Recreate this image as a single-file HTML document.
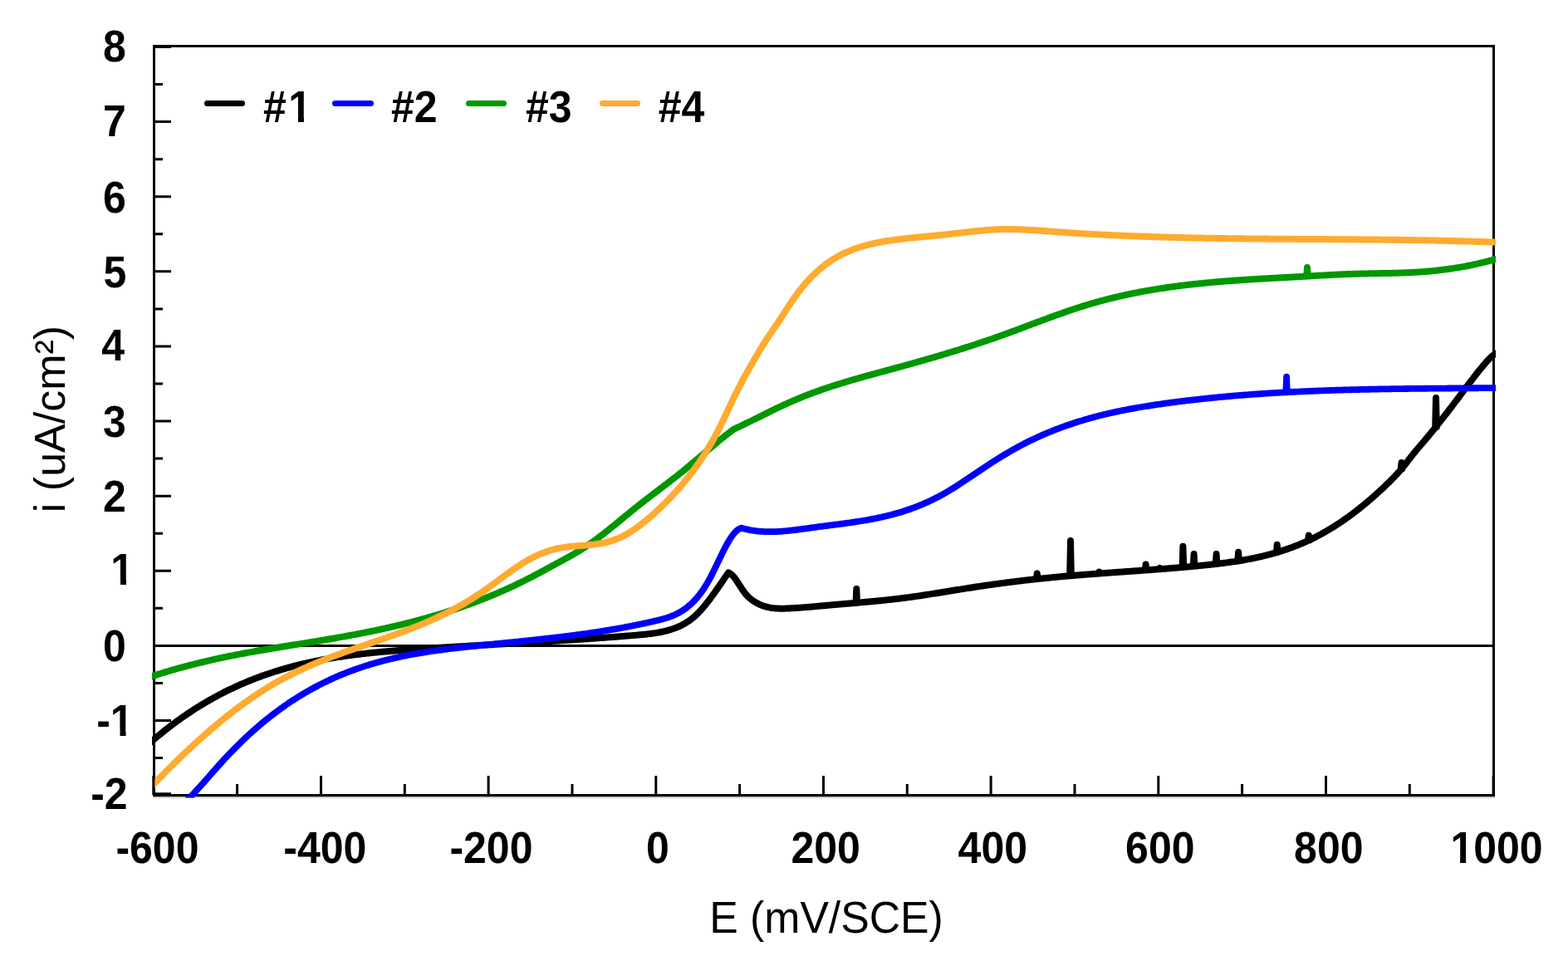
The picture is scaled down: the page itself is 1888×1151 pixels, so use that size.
<!DOCTYPE html><html><head><meta charset="utf-8"><title>Polarization curves</title><style>html,body{margin:0;padding:0;background:#fff;}svg{display:block}</style></head><body>
<svg xmlns="http://www.w3.org/2000/svg" width="1888" height="1151" viewBox="0 0 1888 1151">
<rect width="1888" height="1151" fill="#fff"/>
<defs><clipPath id="c"><rect x="183" y="54" width="1618" height="906.6"/></clipPath><clipPath id="c2"><rect x="186.3" y="54" width="1615" height="906.6"/></clipPath></defs>
<path d="M186,955.8H206 M186,867.5H206 M186,777.4H206 M186,687.3H206 M186,597.2H206 M186,507.1H206 M186,417.0H206 M186,326.8H206 M186,236.7H206 M186,146.6H206 M186,56.5H206 M186,912.6H196 M186,822.5H196 M186,732.3H196 M186,642.2H196 M186,552.1H196 M186,462.0H196 M186,371.9H196 M186,281.8H196 M186,191.7H196 M186,101.6H196 M184.8,957V934 M386.5,957V934 M588.1,957V934 M789.8,957V934 M991.5,957V934 M1193.1,957V934 M1394.8,957V934 M1596.5,957V934 M1798.1,957V934 M285.6,957V944 M487.3,957V944 M689.0,957V944 M890.6,957V944 M1092.3,957V944 M1294.0,957V944 M1495.6,957V944 M1697.3,957V944" stroke="#000" stroke-width="3" fill="none"/>
<path d="M186,777.5H1797" stroke="#000" stroke-width="3"/>
<path d="M184,959.9H1800" stroke="#c0c0c0" stroke-width="1.6"/>
<rect x="185.5" y="55.5" width="1613" height="902" fill="none" stroke="#000" stroke-width="3"/>
<g clip-path="url(#c)" fill="none" stroke-linejoin="round" stroke-linecap="round">
<path d="M176.0,898.47 L177.5,897.12 L179.0,895.79 L180.5,894.47 L182.0,893.16 L183.5,891.86 L185.0,890.57 L186.5,889.29 L188.0,888.03 L189.5,886.77 L191.0,885.52 L192.5,884.29 L194.0,883.06 L195.5,881.84 L197.0,880.64 L198.5,879.44 L200.0,878.26 L201.5,877.08 L203.0,875.92 L204.5,874.76 L206.0,873.62 L207.5,872.48 L209.0,871.36 L210.5,870.25 L212.0,869.14 L213.5,868.04 L215.0,866.96 L216.5,865.88 L218.0,864.82 L219.5,863.76 L221.0,862.71 L222.5,861.67 L224.0,860.65 L225.5,859.63 L227.0,858.62 L228.5,857.62 L230.0,856.62 L231.5,855.64 L233.0,854.67 L234.5,853.71 L236.0,852.75 L237.5,851.80 L239.0,850.87 L240.5,849.94 L242.0,849.02 L243.5,848.11 L245.0,847.21 L246.5,846.32 L248.0,845.43 L249.5,844.56 L251.0,843.69 L252.5,842.83 L254.0,841.98 L255.5,841.14 L257.0,840.31 L258.5,839.48 L260.0,838.66 L261.5,837.86 L263.0,837.05 L264.5,836.26 L266.0,835.48 L267.5,834.70 L269.0,833.93 L270.5,833.17 L272.0,832.42 L273.5,831.68 L275.0,830.94 L276.5,830.21 L278.0,829.49 L279.5,828.78 L281.0,828.07 L282.5,827.38 L284.0,826.68 L285.5,826.00 L287.0,825.33 L288.5,824.66 L290.0,824.00 L291.5,823.34 L293.0,822.70 L294.5,822.06 L296.0,821.42 L297.5,820.80 L299.0,820.18 L300.5,819.57 L302.0,818.97 L303.5,818.37 L305.0,817.78 L306.5,817.20 L308.0,816.62 L309.5,816.05 L311.0,815.49 L312.5,814.93 L314.0,814.38 L315.5,813.84 L317.0,813.30 L318.5,812.77 L320.0,812.24 L321.5,811.73 L323.0,811.21 L324.5,810.71 L326.0,810.21 L327.5,809.72 L329.0,809.23 L330.5,808.75 L332.0,808.27 L333.5,807.81 L335.0,807.34 L336.5,806.89 L338.0,806.43 L339.5,805.99 L341.0,805.55 L342.5,805.11 L344.0,804.69 L345.5,804.26 L347.0,803.85 L348.5,803.43 L350.0,803.03 L351.5,802.63 L353.0,802.23 L354.5,801.84 L356.0,801.45 L357.5,801.07 L359.0,800.70 L360.5,800.33 L362.0,799.97 L363.5,799.61 L365.0,799.25 L366.5,798.90 L368.0,798.56 L369.5,798.22 L371.0,797.88 L372.5,797.55 L374.0,797.22 L375.5,796.90 L377.0,796.59 L378.5,796.27 L380.0,795.97 L381.5,795.66 L383.0,795.36 L384.5,795.07 L386.0,794.78 L387.5,794.49 L389.0,794.21 L390.5,793.93 L392.0,793.66 L393.5,793.39 L395.0,793.13 L396.5,792.87 L398.0,792.61 L399.5,792.35 L401.0,792.10 L402.5,791.86 L404.0,791.62 L405.5,791.38 L407.0,791.14 L408.5,790.91 L410.0,790.68 L411.5,790.46 L413.0,790.24 L414.5,790.02 L416.0,789.81 L417.5,789.60 L419.0,789.39 L420.5,789.18 L422.0,788.98 L423.5,788.78 L425.0,788.59 L426.5,788.40 L428.0,788.21 L429.5,788.02 L431.0,787.84 L432.5,787.66 L434.0,787.48 L435.5,787.31 L437.0,787.13 L438.5,786.96 L440.0,786.80 L441.5,786.63 L443.0,786.47 L444.5,786.31 L446.0,786.16 L447.5,786.00 L449.0,785.85 L450.5,785.70 L452.0,785.55 L453.5,785.40 L455.0,785.26 L456.5,785.12 L458.0,784.98 L459.5,784.84 L461.0,784.71 L462.5,784.57 L464.0,784.44 L465.5,784.31 L467.0,784.18 L468.5,784.06 L470.0,783.93 L471.5,783.81 L473.0,783.69 L474.5,783.57 L476.0,783.45 L477.5,783.33 L479.0,783.21 L480.5,783.10 L482.0,782.98 L483.5,782.87 L485.0,782.76 L486.5,782.65 L488.0,782.54 L489.5,782.43 L491.0,782.33 L492.5,782.22 L494.0,782.12 L495.5,782.01 L497.0,781.91 L498.5,781.81 L500.0,781.70 L501.5,781.60 L503.0,781.50 L504.5,781.40 L506.0,781.30 L507.5,781.20 L509.0,781.10 L510.5,781.01 L512.0,780.91 L513.5,780.81 L515.0,780.71 L516.5,780.62 L518.0,780.52 L519.5,780.42 L521.0,780.33 L522.5,780.23 L524.0,780.14 L525.5,780.04 L527.0,779.95 L528.5,779.86 L530.0,779.76 L531.5,779.67 L533.0,779.58 L534.5,779.48 L536.0,779.39 L537.5,779.30 L539.0,779.21 L540.5,779.12 L542.0,779.03 L543.5,778.93 L545.0,778.84 L546.5,778.75 L548.0,778.66 L549.5,778.57 L551.0,778.49 L552.5,778.40 L554.0,778.31 L555.5,778.22 L557.0,778.13 L558.5,778.04 L560.0,777.95 L561.5,777.87 L563.0,777.78 L564.5,777.69 L566.0,777.60 L567.5,777.52 L569.0,777.43 L570.5,777.34 L572.0,777.25 L573.5,777.17 L575.0,777.08 L576.5,777.00 L578.0,776.91 L579.5,776.82 L581.0,776.74 L582.5,776.65 L584.0,776.56 L585.5,776.48 L587.0,776.39 L588.5,776.31 L590.0,776.22 L591.5,776.14 L593.0,776.05 L594.5,775.97 L596.0,775.88 L597.5,775.79 L599.0,775.71 L600.5,775.62 L602.0,775.54 L603.5,775.45 L605.0,775.37 L606.5,775.28 L608.0,775.20 L609.5,775.11 L611.0,775.03 L612.5,774.94 L614.0,774.86 L615.5,774.77 L617.0,774.68 L618.5,774.60 L620.0,774.51 L621.5,774.43 L623.0,774.34 L624.5,774.25 L626.0,774.17 L627.5,774.08 L629.0,774.00 L630.5,773.91 L632.0,773.82 L633.5,773.74 L635.0,773.65 L636.5,773.56 L638.0,773.47 L639.5,773.39 L641.0,773.30 L642.5,773.21 L644.0,773.12 L645.5,773.04 L647.0,772.95 L648.5,772.86 L650.0,772.77 L651.5,772.68 L653.0,772.59 L654.5,772.50 L656.0,772.41 L657.5,772.32 L659.0,772.23 L660.5,772.14 L662.0,772.05 L663.5,771.96 L665.0,771.87 L666.5,771.78 L668.0,771.69 L669.5,771.59 L671.0,771.50 L672.5,771.41 L674.0,771.31 L675.5,771.22 L677.0,771.13 L678.5,771.03 L680.0,770.94 L681.5,770.84 L683.0,770.75 L684.5,770.65 L686.0,770.56 L687.5,770.46 L689.0,770.36 L690.5,770.27 L692.0,770.17 L693.5,770.07 L695.0,769.97 L696.5,769.87 L698.0,769.77 L699.5,769.67 L701.0,769.57 L702.5,769.47 L704.0,769.37 L705.5,769.27 L707.0,769.17 L708.5,769.07 L710.0,768.96 L711.5,768.86 L713.0,768.76 L714.5,768.65 L716.0,768.55 L717.5,768.44 L719.0,768.33 L720.5,768.23 L722.0,768.12 L723.5,768.01 L725.0,767.90 L726.5,767.80 L728.0,767.69 L729.5,767.58 L731.0,767.47 L732.5,767.35 L734.0,767.24 L735.5,767.13 L737.0,767.02 L738.5,766.90 L740.0,766.79 L741.5,766.67 L743.0,766.56 L744.5,766.44 L746.0,766.33 L747.5,766.21 L749.0,766.09 L750.5,765.97 L752.0,765.85 L753.5,765.73 L755.0,765.61 L756.5,765.49 L758.0,765.37 L759.5,765.24 L761.0,765.12 L762.5,764.99 L764.0,764.87 L765.5,764.74 L767.0,764.62 L768.5,764.49 L770.0,764.36 L771.5,764.23 L773.0,764.09 L774.5,763.95 L776.0,763.80 L777.5,763.65 L779.0,763.49 L780.5,763.33 L782.0,763.15 L783.5,762.97 L785.0,762.77 L786.5,762.56 L788.0,762.35 L789.5,762.11 L791.0,761.87 L792.5,761.61 L794.0,761.33 L795.5,761.04 L797.0,760.73 L798.5,760.40 L800.0,760.05 L801.5,759.68 L803.0,759.29 L804.5,758.88 L806.0,758.45 L807.5,757.99 L809.0,757.51 L810.5,757.00 L812.0,756.47 L813.5,755.91 L815.0,755.32 L816.5,754.69 L818.0,754.03 L819.5,753.33 L821.0,752.60 L822.5,751.81 L824.0,750.99 L825.5,750.11 L827.0,749.18 L828.5,748.21 L830.0,747.17 L831.5,746.08 L833.0,744.92 L834.5,743.70 L836.0,742.42 L837.5,741.07 L839.0,739.65 L840.5,738.16 L842.0,736.60 L843.5,734.99 L845.0,733.32 L846.5,731.59 L848.0,729.82 L849.5,727.99 L851.0,726.12 L852.5,724.20 L854.0,722.25 L855.5,720.25 L857.0,718.23 L858.5,716.17 L860.0,714.09 L861.5,711.98 L863.0,709.85 L864.5,707.70 L866.0,705.54 L867.5,703.36 L869.0,701.18 L870.5,698.98 L872.0,696.79 L873.5,694.59 L875.0,692.40 L876.5,690.21 L877.0,689.48L877.0,689.49 L878.5,690.06 L880.0,691.02 L881.5,692.32 L883.0,693.91 L884.5,695.74 L886.0,697.77 L887.5,699.95 L889.0,702.23 L890.5,704.57 L892.0,706.91 L893.5,709.21 L895.0,711.42 L896.5,713.50 L898.0,715.40 L899.5,717.11 L901.0,718.65 L902.5,720.03 L904.0,721.28 L905.5,722.42 L907.0,723.47 L908.5,724.43 L910.0,725.33 L911.5,726.16 L913.0,726.93 L914.5,727.64 L916.0,728.30 L917.5,728.89 L919.0,729.44 L920.5,729.93 L922.0,730.37 L923.5,730.77 L925.0,731.12 L926.5,731.43 L928.0,731.70 L929.5,731.93 L931.0,732.12 L932.5,732.29 L934.0,732.42 L935.5,732.52 L937.0,732.59 L938.5,732.64 L940.0,732.67 L941.5,732.67 L943.0,732.66 L944.5,732.63 L946.0,732.59 L947.5,732.54 L949.0,732.48 L950.5,732.41 L952.0,732.33 L953.5,732.25 L955.0,732.17 L956.5,732.08 L958.0,731.99 L959.5,731.90 L961.0,731.80 L962.5,731.69 L964.0,731.59 L965.5,731.48 L967.0,731.37 L968.5,731.25 L970.0,731.13 L971.5,731.01 L973.0,730.89 L974.5,730.76 L976.0,730.64 L977.5,730.51 L979.0,730.38 L980.5,730.25 L982.0,730.11 L983.5,729.98 L985.0,729.84 L986.5,729.71 L988.0,729.57 L989.5,729.43 L991.0,729.30 L992.5,729.16 L994.0,729.02 L995.5,728.89 L997.0,728.75 L998.5,728.61 L1000.0,728.48 L1001.5,728.34 L1003.0,728.21 L1004.5,728.08 L1006.0,727.95 L1007.5,727.82 L1009.0,727.69 L1010.5,727.56 L1012.0,727.43 L1013.5,727.30 L1015.0,727.17 L1016.5,727.04 L1018.0,726.92 L1019.5,726.79 L1021.0,726.66 L1022.5,726.53 L1024.0,726.41 L1025.5,726.28 L1027.0,726.15 L1028.5,726.02 L1030.0,725.90 L1031.5,725.77 L1033.0,725.64 L1034.5,725.51 L1036.0,725.38 L1037.5,725.25 L1039.0,725.12 L1040.5,724.98 L1042.0,724.85 L1043.5,724.72 L1045.0,724.58 L1046.5,724.45 L1048.0,724.31 L1049.5,724.17 L1051.0,724.03 L1052.5,723.89 L1054.0,723.75 L1055.5,723.60 L1057.0,723.46 L1058.5,723.31 L1060.0,723.16 L1061.5,723.01 L1063.0,722.86 L1064.5,722.71 L1066.0,722.55 L1067.5,722.39 L1069.0,722.23 L1070.5,722.07 L1072.0,721.91 L1073.5,721.74 L1075.0,721.57 L1076.5,721.40 L1078.0,721.23 L1079.5,721.05 L1081.0,720.87 L1082.5,720.69 L1084.0,720.50 L1085.5,720.32 L1087.0,720.13 L1088.5,719.93 L1090.0,719.74 L1091.5,719.54 L1093.0,719.34 L1094.5,719.13 L1096.0,718.93 L1097.5,718.72 L1099.0,718.51 L1100.5,718.30 L1102.0,718.08 L1103.5,717.87 L1105.0,717.65 L1106.5,717.43 L1108.0,717.21 L1109.5,716.98 L1111.0,716.76 L1112.5,716.53 L1114.0,716.30 L1115.5,716.07 L1117.0,715.84 L1118.5,715.61 L1120.0,715.37 L1121.5,715.14 L1123.0,714.90 L1124.5,714.67 L1126.0,714.43 L1127.5,714.19 L1129.0,713.95 L1130.5,713.71 L1132.0,713.47 L1133.5,713.23 L1135.0,712.99 L1136.5,712.74 L1138.0,712.50 L1139.5,712.26 L1141.0,712.02 L1142.5,711.77 L1144.0,711.53 L1145.5,711.29 L1147.0,711.04 L1148.5,710.80 L1150.0,710.56 L1151.5,710.32 L1153.0,710.07 L1154.5,709.83 L1156.0,709.59 L1157.5,709.35 L1159.0,709.11 L1160.5,708.88 L1162.0,708.64 L1163.5,708.40 L1165.0,708.17 L1166.5,707.93 L1168.0,707.70 L1169.5,707.47 L1171.0,707.23 L1172.5,707.01 L1174.0,706.78 L1175.5,706.55 L1177.0,706.32 L1178.5,706.10 L1180.0,705.88 L1181.5,705.66 L1183.0,705.43 L1184.5,705.22 L1186.0,705.00 L1187.5,704.78 L1189.0,704.57 L1190.5,704.35 L1192.0,704.14 L1193.5,703.93 L1195.0,703.72 L1196.5,703.51 L1198.0,703.30 L1199.5,703.10 L1201.0,702.89 L1202.5,702.69 L1204.0,702.49 L1205.5,702.29 L1207.0,702.09 L1208.5,701.89 L1210.0,701.69 L1211.5,701.50 L1213.0,701.30 L1214.5,701.11 L1216.0,700.92 L1217.5,700.73 L1219.0,700.54 L1220.5,700.35 L1222.0,700.17 L1223.5,699.98 L1225.0,699.80 L1226.5,699.62 L1228.0,699.44 L1229.5,699.26 L1231.0,699.08 L1232.5,698.90 L1234.0,698.73 L1235.5,698.55 L1237.0,698.38 L1238.5,698.21 L1240.0,698.04 L1241.5,697.87 L1243.0,697.70 L1244.5,697.54 L1246.0,697.37 L1247.5,697.21 L1249.0,697.05 L1250.5,696.89 L1252.0,696.73 L1253.5,696.57 L1255.0,696.42 L1256.5,696.26 L1258.0,696.11 L1259.5,695.96 L1261.0,695.80 L1262.5,695.66 L1264.0,695.51 L1265.5,695.36 L1267.0,695.22 L1268.5,695.07 L1270.0,694.93 L1271.5,694.79 L1273.0,694.65 L1274.5,694.51 L1276.0,694.37 L1277.5,694.23 L1279.0,694.10 L1280.5,693.96 L1282.0,693.83 L1283.5,693.70 L1285.0,693.57 L1286.5,693.44 L1288.0,693.31 L1289.5,693.18 L1291.0,693.05 L1292.5,692.93 L1294.0,692.80 L1295.5,692.68 L1297.0,692.56 L1298.5,692.43 L1300.0,692.31 L1301.5,692.19 L1303.0,692.07 L1304.5,691.95 L1306.0,691.83 L1307.5,691.72 L1309.0,691.60 L1310.5,691.48 L1312.0,691.37 L1313.5,691.25 L1315.0,691.14 L1316.5,691.03 L1318.0,690.91 L1319.5,690.80 L1321.0,690.69 L1322.5,690.58 L1324.0,690.46 L1325.5,690.35 L1327.0,690.24 L1328.5,690.13 L1330.0,690.03 L1331.5,689.92 L1333.0,689.81 L1334.5,689.70 L1336.0,689.59 L1337.5,689.48 L1339.0,689.38 L1340.5,689.27 L1342.0,689.16 L1343.5,689.05 L1345.0,688.95 L1346.5,688.84 L1348.0,688.73 L1349.5,688.63 L1351.0,688.52 L1352.5,688.42 L1354.0,688.31 L1355.5,688.20 L1357.0,688.10 L1358.5,687.99 L1360.0,687.88 L1361.5,687.78 L1363.0,687.67 L1364.5,687.57 L1366.0,687.46 L1367.5,687.35 L1369.0,687.24 L1370.5,687.14 L1372.0,687.03 L1373.5,686.92 L1375.0,686.81 L1376.5,686.70 L1378.0,686.60 L1379.5,686.49 L1381.0,686.38 L1382.5,686.27 L1384.0,686.16 L1385.5,686.05 L1387.0,685.93 L1388.5,685.82 L1390.0,685.71 L1391.5,685.60 L1393.0,685.48 L1394.5,685.37 L1396.0,685.25 L1397.5,685.14 L1399.0,685.02 L1400.5,684.91 L1402.0,684.79 L1403.5,684.67 L1405.0,684.55 L1406.5,684.43 L1408.0,684.31 L1409.5,684.19 L1411.0,684.07 L1412.5,683.95 L1414.0,683.82 L1415.5,683.70 L1417.0,683.57 L1418.5,683.45 L1420.0,683.32 L1421.5,683.19 L1423.0,683.06 L1424.5,682.93 L1426.0,682.80 L1427.5,682.67 L1429.0,682.53 L1430.5,682.40 L1432.0,682.26 L1433.5,682.12 L1435.0,681.99 L1436.5,681.85 L1438.0,681.71 L1439.5,681.56 L1441.0,681.42 L1442.5,681.28 L1444.0,681.13 L1445.5,680.98 L1447.0,680.83 L1448.5,680.68 L1450.0,680.53 L1451.5,680.38 L1453.0,680.22 L1454.5,680.07 L1456.0,679.91 L1457.5,679.75 L1459.0,679.58 L1460.5,679.42 L1462.0,679.25 L1463.5,679.08 L1465.0,678.91 L1466.5,678.73 L1468.0,678.55 L1469.5,678.37 L1471.0,678.19 L1472.5,678.00 L1474.0,677.81 L1475.5,677.61 L1477.0,677.41 L1478.5,677.21 L1480.0,677.01 L1481.5,676.80 L1483.0,676.58 L1484.5,676.36 L1486.0,676.14 L1487.5,675.92 L1489.0,675.68 L1490.5,675.45 L1492.0,675.21 L1493.5,674.96 L1495.0,674.71 L1496.5,674.46 L1498.0,674.19 L1499.5,673.93 L1501.0,673.66 L1502.5,673.38 L1504.0,673.10 L1505.5,672.81 L1507.0,672.51 L1508.5,672.21 L1510.0,671.90 L1511.5,671.59 L1513.0,671.27 L1514.5,670.95 L1516.0,670.61 L1517.5,670.27 L1519.0,669.93 L1520.5,669.57 L1522.0,669.21 L1523.5,668.84 L1525.0,668.47 L1526.5,668.09 L1528.0,667.70 L1529.5,667.30 L1531.0,666.89 L1532.5,666.48 L1534.0,666.06 L1535.5,665.63 L1537.0,665.19 L1538.5,664.74 L1540.0,664.29 L1541.5,663.82 L1543.0,663.35 L1544.5,662.87 L1546.0,662.38 L1547.5,661.88 L1549.0,661.37 L1550.5,660.85 L1552.0,660.32 L1553.5,659.79 L1555.0,659.24 L1556.5,658.68 L1558.0,658.12 L1559.5,657.54 L1561.0,656.95 L1562.5,656.36 L1564.0,655.75 L1565.5,655.13 L1567.0,654.50 L1568.5,653.86 L1570.0,653.21 L1571.5,652.55 L1573.0,651.88 L1574.5,651.20 L1576.0,650.50 L1577.5,649.79 L1579.0,649.08 L1580.5,648.35 L1582.0,647.60 L1583.5,646.85 L1585.0,646.09 L1586.5,645.31 L1588.0,644.52 L1589.5,643.72 L1591.0,642.90 L1592.5,642.08 L1594.0,641.24 L1595.5,640.39 L1597.0,639.52 L1598.5,638.65 L1600.0,637.76 L1601.5,636.86 L1603.0,635.95 L1604.5,635.03 L1606.0,634.09 L1607.5,633.14 L1609.0,632.18 L1610.5,631.21 L1612.0,630.23 L1613.5,629.23 L1615.0,628.22 L1616.5,627.20 L1618.0,626.17 L1619.5,625.13 L1621.0,624.07 L1622.5,623.00 L1624.0,621.92 L1625.5,620.83 L1627.0,619.72 L1628.5,618.61 L1630.0,617.48 L1631.5,616.34 L1633.0,615.18 L1634.5,614.02 L1636.0,612.84 L1637.5,611.65 L1639.0,610.45 L1640.5,609.24 L1642.0,608.01 L1643.5,606.78 L1645.0,605.53 L1646.5,604.27 L1648.0,602.99 L1649.5,601.71 L1651.0,600.41 L1652.5,599.10 L1654.0,597.78 L1655.5,596.45 L1657.0,595.11 L1658.5,593.75 L1660.0,592.38 L1661.5,591.00 L1663.0,589.61 L1664.5,588.21 L1666.0,586.79 L1667.5,585.36 L1669.0,583.92 L1670.5,582.47 L1672.0,581.01 L1673.5,579.53 L1675.0,578.04 L1676.5,576.53 L1678.0,574.99 L1679.5,573.44 L1681.0,571.85 L1682.5,570.23 L1684.0,568.58 L1685.5,566.89 L1687.0,565.16 L1688.5,563.38 L1690.0,561.56 L1691.5,559.69 L1693.0,557.79 L1694.5,555.87 L1696.0,553.92 L1697.5,551.98 L1699.0,550.04 L1700.5,548.12 L1702.0,546.23 L1703.5,544.38 L1705.0,542.56 L1706.5,540.76 L1708.0,538.99 L1709.5,537.23 L1711.0,535.48 L1712.5,533.74 L1714.0,531.99 L1715.5,530.22 L1717.0,528.45 L1718.5,526.66 L1720.0,524.86 L1721.5,523.05 L1723.0,521.23 L1724.5,519.40 L1726.0,517.56 L1727.5,515.71 L1729.0,513.85 L1730.5,511.97 L1732.0,510.09 L1733.5,508.20 L1735.0,506.31 L1736.5,504.40 L1738.0,502.48 L1739.5,500.56 L1741.0,498.63 L1742.5,496.69 L1744.0,494.75 L1745.5,492.79 L1747.0,490.84 L1748.5,488.87 L1750.0,486.90 L1751.5,484.93 L1753.0,482.94 L1754.5,480.96 L1756.0,478.97 L1757.5,476.97 L1759.0,474.97 L1760.5,472.97 L1762.0,470.97 L1763.5,468.96 L1765.0,466.96 L1766.5,464.97 L1768.0,462.98 L1769.5,460.99 L1771.0,459.02 L1772.5,457.05 L1774.0,455.10 L1775.5,453.16 L1777.0,451.24 L1778.5,449.34 L1780.0,447.45 L1781.5,445.59 L1783.0,443.75 L1784.5,441.94 L1786.0,440.15 L1787.5,438.39 L1789.0,436.65 L1790.5,434.96 L1792.0,433.32 L1793.5,431.75 L1795.0,430.28 L1796.5,428.93 L1798.0,427.73 L1799.5,426.68 L1801.0,425.82 L1802.5,425.16 L1803.0,424.99 M1030.5,725.8 L1031.3,709.0 L1032.0,725.8 M1248.0,697.1 L1248.7,690.6 L1249.5,697.1 M1288.2,693.2 L1289.0,651.0 L1289.8,693.2 M1322.7,690.5 L1323.4,688.5 L1324.2,690.5 M1378.8,686.5 L1379.6,679.5 L1380.3,686.5 M1395.8,685.2 L1396.5,683.8 L1397.2,685.2 M1423.7,682.9 L1424.4,657.7 L1425.2,682.9 M1436.8,681.7 L1437.6,666.9 L1438.3,681.7 M1463.8,679.0 L1464.6,666.9 L1465.3,679.0 M1490.3,675.4 L1491.1,664.8 L1491.8,675.4 M1537.0,665.0 L1537.7,655.7 L1538.5,665.0 M1575.0,650.6 L1575.8,644.6 L1576.5,650.6 M1728.2,513.8 L1729.0,479.0 L1729.8,513.8 M1686.8,564.6 L1687.5,557.0 L1688.2,564.6" stroke="#000" stroke-width="8"/>
<path d="M220.0,969.00 L221.5,967.53 L223.0,966.04 L224.5,964.53 L226.0,963.00 L227.5,961.45 L229.0,959.88 L230.5,958.30 L232.0,956.70 L233.5,955.09 L235.0,953.46 L236.5,951.82 L238.0,950.17 L239.5,948.51 L241.0,946.85 L242.5,945.17 L244.0,943.49 L245.5,941.80 L247.0,940.10 L248.5,938.41 L250.0,936.71 L251.5,935.01 L253.0,933.30 L254.5,931.60 L256.0,929.90 L257.5,928.20 L259.0,926.51 L260.5,924.82 L262.0,923.14 L263.5,921.46 L265.0,919.79 L266.5,918.13 L268.0,916.48 L269.5,914.84 L271.0,913.22 L272.5,911.60 L274.0,910.00 L275.5,908.42 L277.0,906.84 L278.5,905.28 L280.0,903.73 L281.5,902.20 L283.0,900.67 L284.5,899.16 L286.0,897.66 L287.5,896.18 L289.0,894.71 L290.5,893.25 L292.0,891.80 L293.5,890.37 L295.0,888.94 L296.5,887.53 L298.0,886.14 L299.5,884.75 L301.0,883.38 L302.5,882.02 L304.0,880.67 L305.5,879.33 L307.0,878.01 L308.5,876.69 L310.0,875.39 L311.5,874.10 L313.0,872.83 L314.5,871.56 L316.0,870.31 L317.5,869.07 L319.0,867.84 L320.5,866.62 L322.0,865.41 L323.5,864.21 L325.0,863.03 L326.5,861.86 L328.0,860.69 L329.5,859.54 L331.0,858.40 L332.5,857.27 L334.0,856.16 L335.5,855.05 L337.0,853.95 L338.5,852.87 L340.0,851.80 L341.5,850.73 L343.0,849.68 L344.5,848.64 L346.0,847.61 L347.5,846.59 L349.0,845.58 L350.5,844.58 L352.0,843.59 L353.5,842.62 L355.0,841.65 L356.5,840.69 L358.0,839.74 L359.5,838.81 L361.0,837.88 L362.5,836.96 L364.0,836.06 L365.5,835.16 L367.0,834.27 L368.5,833.40 L370.0,832.53 L371.5,831.67 L373.0,830.82 L374.5,829.99 L376.0,829.16 L377.5,828.34 L379.0,827.53 L380.5,826.73 L382.0,825.94 L383.5,825.16 L385.0,824.39 L386.5,823.62 L388.0,822.87 L389.5,822.12 L391.0,821.39 L392.5,820.66 L394.0,819.94 L395.5,819.23 L397.0,818.53 L398.5,817.84 L400.0,817.15 L401.5,816.48 L403.0,815.81 L404.5,815.15 L406.0,814.50 L407.5,813.85 L409.0,813.22 L410.5,812.59 L412.0,811.97 L413.5,811.36 L415.0,810.76 L416.5,810.17 L418.0,809.58 L419.5,809.00 L421.0,808.42 L422.5,807.86 L424.0,807.30 L425.5,806.75 L427.0,806.21 L428.5,805.67 L430.0,805.14 L431.5,804.62 L433.0,804.11 L434.5,803.60 L436.0,803.10 L437.5,802.61 L439.0,802.12 L440.5,801.64 L442.0,801.17 L443.5,800.70 L445.0,800.24 L446.5,799.78 L448.0,799.34 L449.5,798.89 L451.0,798.46 L452.5,798.03 L454.0,797.61 L455.5,797.19 L457.0,796.78 L458.5,796.37 L460.0,795.97 L461.5,795.58 L463.0,795.19 L464.5,794.81 L466.0,794.43 L467.5,794.06 L469.0,793.69 L470.5,793.33 L472.0,792.98 L473.5,792.63 L475.0,792.28 L476.5,791.94 L478.0,791.61 L479.5,791.28 L481.0,790.95 L482.5,790.63 L484.0,790.31 L485.5,790.00 L487.0,789.70 L488.5,789.39 L490.0,789.10 L491.5,788.80 L493.0,788.52 L494.5,788.23 L496.0,787.95 L497.5,787.67 L499.0,787.40 L500.5,787.13 L502.0,786.87 L503.5,786.61 L505.0,786.35 L506.5,786.10 L508.0,785.85 L509.5,785.61 L511.0,785.36 L512.5,785.13 L514.0,784.89 L515.5,784.66 L517.0,784.43 L518.5,784.20 L520.0,783.98 L521.5,783.76 L523.0,783.55 L524.5,783.33 L526.0,783.12 L527.5,782.92 L529.0,782.71 L530.5,782.51 L532.0,782.31 L533.5,782.11 L535.0,781.92 L536.5,781.73 L538.0,781.54 L539.5,781.35 L541.0,781.16 L542.5,780.98 L544.0,780.80 L545.5,780.62 L547.0,780.44 L548.5,780.27 L550.0,780.09 L551.5,779.92 L553.0,779.75 L554.5,779.58 L556.0,779.41 L557.5,779.25 L559.0,779.08 L560.5,778.92 L562.0,778.76 L563.5,778.60 L565.0,778.44 L566.5,778.28 L568.0,778.12 L569.5,777.96 L571.0,777.81 L572.5,777.65 L574.0,777.50 L575.5,777.35 L577.0,777.19 L578.5,777.04 L580.0,776.89 L581.5,776.74 L583.0,776.58 L584.5,776.43 L586.0,776.28 L587.5,776.13 L589.0,775.98 L590.5,775.83 L592.0,775.68 L593.5,775.53 L595.0,775.38 L596.5,775.23 L598.0,775.08 L599.5,774.93 L601.0,774.78 L602.5,774.63 L604.0,774.48 L605.5,774.33 L607.0,774.18 L608.5,774.03 L610.0,773.88 L611.5,773.73 L613.0,773.58 L614.5,773.43 L616.0,773.28 L617.5,773.12 L619.0,772.97 L620.5,772.82 L622.0,772.67 L623.5,772.51 L625.0,772.36 L626.5,772.21 L628.0,772.05 L629.5,771.90 L631.0,771.74 L632.5,771.59 L634.0,771.43 L635.5,771.27 L637.0,771.12 L638.5,770.96 L640.0,770.80 L641.5,770.64 L643.0,770.48 L644.5,770.32 L646.0,770.16 L647.5,769.99 L649.0,769.83 L650.5,769.67 L652.0,769.50 L653.5,769.33 L655.0,769.17 L656.5,769.00 L658.0,768.83 L659.5,768.66 L661.0,768.49 L662.5,768.32 L664.0,768.15 L665.5,767.97 L667.0,767.80 L668.5,767.62 L670.0,767.44 L671.5,767.27 L673.0,767.09 L674.5,766.90 L676.0,766.72 L677.5,766.54 L679.0,766.35 L680.5,766.17 L682.0,765.98 L683.5,765.79 L685.0,765.60 L686.5,765.41 L688.0,765.22 L689.5,765.02 L691.0,764.83 L692.5,764.63 L694.0,764.43 L695.5,764.23 L697.0,764.03 L698.5,763.82 L700.0,763.62 L701.5,763.41 L703.0,763.20 L704.5,762.99 L706.0,762.78 L707.5,762.56 L709.0,762.35 L710.5,762.13 L712.0,761.91 L713.5,761.69 L715.0,761.46 L716.5,761.24 L718.0,761.01 L719.5,760.78 L721.0,760.55 L722.5,760.32 L724.0,760.08 L725.5,759.84 L727.0,759.61 L728.5,759.36 L730.0,759.12 L731.5,758.87 L733.0,758.62 L734.5,758.37 L736.0,758.12 L737.5,757.87 L739.0,757.61 L740.5,757.35 L742.0,757.09 L743.5,756.82 L745.0,756.56 L746.5,756.29 L748.0,756.02 L749.5,755.74 L751.0,755.46 L752.5,755.19 L754.0,754.90 L755.5,754.62 L757.0,754.33 L758.5,754.04 L760.0,753.75 L761.5,753.46 L763.0,753.16 L764.5,752.86 L766.0,752.55 L767.5,752.25 L769.0,751.94 L770.5,751.63 L772.0,751.31 L773.5,751.00 L775.0,750.68 L776.5,750.35 L778.0,750.03 L779.5,749.70 L781.0,749.37 L782.5,749.03 L784.0,748.69 L785.5,748.35 L787.0,748.01 L788.5,747.66 L790.0,747.31 L791.5,746.96 L793.0,746.59 L794.5,746.22 L796.0,745.84 L797.5,745.44 L799.0,745.03 L800.5,744.60 L802.0,744.14 L803.5,743.67 L805.0,743.17 L806.5,742.64 L808.0,742.08 L809.5,741.49 L811.0,740.87 L812.5,740.20 L814.0,739.50 L815.5,738.76 L817.0,737.98 L818.5,737.14 L820.0,736.26 L821.5,735.33 L823.0,734.35 L824.5,733.31 L826.0,732.22 L827.5,731.06 L829.0,729.84 L830.5,728.56 L832.0,727.21 L833.5,725.79 L835.0,724.30 L836.5,722.74 L838.0,721.10 L839.5,719.39 L841.0,717.59 L842.5,715.70 L844.0,713.72 L845.5,711.64 L847.0,709.46 L848.5,707.18 L850.0,704.79 L851.5,702.28 L853.0,699.66 L854.5,696.91 L856.0,694.07 L857.5,691.13 L859.0,688.13 L860.5,685.07 L862.0,681.97 L863.5,678.84 L865.0,675.71 L866.5,672.58 L868.0,669.48 L869.5,666.41 L871.0,663.40 L872.5,660.47 L874.0,657.62 L875.5,654.87 L877.0,652.24 L878.5,649.75 L880.0,647.40 L881.5,645.23 L883.0,643.23 L884.5,641.44 L886.0,639.86 L887.5,638.51 L889.0,637.40 L890.5,636.56 L892.0,636.00 L893.0,635.78L893.0,635.76 L894.5,636.18 L896.0,636.58 L897.5,636.95 L899.0,637.30 L900.5,637.63 L902.0,637.94 L903.5,638.23 L905.0,638.49 L906.5,638.73 L908.0,638.96 L909.5,639.16 L911.0,639.34 L912.5,639.51 L914.0,639.65 L915.5,639.78 L917.0,639.89 L918.5,639.98 L920.0,640.06 L921.5,640.12 L923.0,640.17 L924.5,640.20 L926.0,640.22 L927.5,640.22 L929.0,640.21 L930.5,640.18 L932.0,640.14 L933.5,640.09 L935.0,640.03 L936.5,639.96 L938.0,639.88 L939.5,639.78 L941.0,639.68 L942.5,639.57 L944.0,639.45 L945.5,639.32 L947.0,639.18 L948.5,639.04 L950.0,638.89 L951.5,638.73 L953.0,638.56 L954.5,638.39 L956.0,638.22 L957.5,638.04 L959.0,637.86 L960.5,637.67 L962.0,637.48 L963.5,637.28 L965.0,637.08 L966.5,636.88 L968.0,636.68 L969.5,636.47 L971.0,636.27 L972.5,636.06 L974.0,635.85 L975.5,635.64 L977.0,635.43 L978.5,635.22 L980.0,635.01 L981.5,634.80 L983.0,634.60 L984.5,634.39 L986.0,634.19 L987.5,633.99 L989.0,633.79 L990.5,633.59 L992.0,633.40 L993.5,633.20 L995.0,633.01 L996.5,632.82 L998.0,632.63 L999.5,632.44 L1001.0,632.25 L1002.5,632.06 L1004.0,631.86 L1005.5,631.67 L1007.0,631.48 L1008.5,631.29 L1010.0,631.10 L1011.5,630.90 L1013.0,630.71 L1014.5,630.51 L1016.0,630.31 L1017.5,630.11 L1019.0,629.91 L1020.5,629.71 L1022.0,629.50 L1023.5,629.29 L1025.0,629.08 L1026.5,628.87 L1028.0,628.65 L1029.5,628.43 L1031.0,628.20 L1032.5,627.97 L1034.0,627.74 L1035.5,627.51 L1037.0,627.27 L1038.5,627.02 L1040.0,626.77 L1041.5,626.52 L1043.0,626.26 L1044.5,625.99 L1046.0,625.72 L1047.5,625.45 L1049.0,625.17 L1050.5,624.88 L1052.0,624.59 L1053.5,624.29 L1055.0,623.99 L1056.5,623.68 L1058.0,623.36 L1059.5,623.04 L1061.0,622.71 L1062.5,622.37 L1064.0,622.03 L1065.5,621.68 L1067.0,621.32 L1068.5,620.96 L1070.0,620.59 L1071.5,620.21 L1073.0,619.82 L1074.5,619.43 L1076.0,619.02 L1077.5,618.61 L1079.0,618.19 L1080.5,617.77 L1082.0,617.33 L1083.5,616.89 L1085.0,616.43 L1086.5,615.97 L1088.0,615.50 L1089.5,615.02 L1091.0,614.53 L1092.5,614.03 L1094.0,613.52 L1095.5,613.00 L1097.0,612.47 L1098.5,611.93 L1100.0,611.38 L1101.5,610.82 L1103.0,610.25 L1104.5,609.67 L1106.0,609.08 L1107.5,608.47 L1109.0,607.86 L1110.5,607.23 L1112.0,606.60 L1113.5,605.95 L1115.0,605.29 L1116.5,604.62 L1118.0,603.93 L1119.5,603.24 L1121.0,602.53 L1122.5,601.81 L1124.0,601.08 L1125.5,600.33 L1127.0,599.57 L1128.5,598.80 L1130.0,598.02 L1131.5,597.22 L1133.0,596.41 L1134.5,595.58 L1136.0,594.75 L1137.5,593.90 L1139.0,593.03 L1140.5,592.15 L1142.0,591.26 L1143.5,590.36 L1145.0,589.45 L1146.5,588.53 L1148.0,587.60 L1149.5,586.65 L1151.0,585.70 L1152.5,584.75 L1154.0,583.78 L1155.5,582.81 L1157.0,581.83 L1158.5,580.84 L1160.0,579.85 L1161.5,578.85 L1163.0,577.85 L1164.5,576.85 L1166.0,575.84 L1167.5,574.83 L1169.0,573.81 L1170.5,572.80 L1172.0,571.78 L1173.5,570.77 L1175.0,569.75 L1176.5,568.74 L1178.0,567.72 L1179.5,566.71 L1181.0,565.70 L1182.5,564.69 L1184.0,563.69 L1185.5,562.69 L1187.0,561.70 L1188.5,560.71 L1190.0,559.72 L1191.5,558.74 L1193.0,557.77 L1194.5,556.80 L1196.0,555.84 L1197.5,554.88 L1199.0,553.93 L1200.5,552.98 L1202.0,552.05 L1203.5,551.11 L1205.0,550.19 L1206.5,549.27 L1208.0,548.36 L1209.5,547.46 L1211.0,546.56 L1212.5,545.67 L1214.0,544.79 L1215.5,543.92 L1217.0,543.05 L1218.5,542.20 L1220.0,541.35 L1221.5,540.51 L1223.0,539.68 L1224.5,538.85 L1226.0,538.04 L1227.5,537.23 L1229.0,536.43 L1230.5,535.64 L1232.0,534.86 L1233.5,534.09 L1235.0,533.32 L1236.5,532.57 L1238.0,531.82 L1239.5,531.07 L1241.0,530.34 L1242.5,529.62 L1244.0,528.90 L1245.5,528.19 L1247.0,527.49 L1248.5,526.79 L1250.0,526.11 L1251.5,525.43 L1253.0,524.75 L1254.5,524.09 L1256.0,523.43 L1257.5,522.78 L1259.0,522.14 L1260.5,521.50 L1262.0,520.88 L1263.5,520.26 L1265.0,519.64 L1266.5,519.03 L1268.0,518.43 L1269.5,517.84 L1271.0,517.25 L1272.5,516.67 L1274.0,516.10 L1275.5,515.53 L1277.0,514.97 L1278.5,514.42 L1280.0,513.87 L1281.5,513.33 L1283.0,512.80 L1284.5,512.27 L1286.0,511.75 L1287.5,511.23 L1289.0,510.72 L1290.5,510.22 L1292.0,509.72 L1293.5,509.23 L1295.0,508.75 L1296.5,508.27 L1298.0,507.79 L1299.5,507.33 L1301.0,506.86 L1302.5,506.41 L1304.0,505.96 L1305.5,505.51 L1307.0,505.07 L1308.5,504.63 L1310.0,504.21 L1311.5,503.78 L1313.0,503.36 L1314.5,502.95 L1316.0,502.54 L1317.5,502.14 L1319.0,501.74 L1320.5,501.34 L1322.0,500.96 L1323.5,500.57 L1325.0,500.19 L1326.5,499.82 L1328.0,499.45 L1329.5,499.08 L1331.0,498.72 L1332.5,498.37 L1334.0,498.01 L1335.5,497.67 L1337.0,497.32 L1338.5,496.99 L1340.0,496.65 L1341.5,496.32 L1343.0,496.00 L1344.5,495.67 L1346.0,495.36 L1347.5,495.04 L1349.0,494.73 L1350.5,494.42 L1352.0,494.12 L1353.5,493.82 L1355.0,493.53 L1356.5,493.24 L1358.0,492.95 L1359.5,492.66 L1361.0,492.38 L1362.5,492.10 L1364.0,491.83 L1365.5,491.56 L1367.0,491.29 L1368.5,491.03 L1370.0,490.76 L1371.5,490.51 L1373.0,490.25 L1374.5,490.00 L1376.0,489.75 L1377.5,489.50 L1379.0,489.26 L1380.5,489.01 L1382.0,488.78 L1383.5,488.54 L1385.0,488.31 L1386.5,488.07 L1388.0,487.85 L1389.5,487.62 L1391.0,487.39 L1392.5,487.17 L1394.0,486.95 L1395.5,486.74 L1397.0,486.52 L1398.5,486.31 L1400.0,486.10 L1401.5,485.89 L1403.0,485.68 L1404.5,485.47 L1406.0,485.27 L1407.5,485.07 L1409.0,484.87 L1410.5,484.67 L1412.0,484.47 L1413.5,484.27 L1415.0,484.08 L1416.5,483.89 L1418.0,483.69 L1419.5,483.50 L1421.0,483.32 L1422.5,483.13 L1424.0,482.94 L1425.5,482.76 L1427.0,482.58 L1428.5,482.40 L1430.0,482.22 L1431.5,482.04 L1433.0,481.87 L1434.5,481.69 L1436.0,481.52 L1437.5,481.35 L1439.0,481.18 L1440.5,481.01 L1442.0,480.84 L1443.5,480.68 L1445.0,480.51 L1446.5,480.35 L1448.0,480.19 L1449.5,480.03 L1451.0,479.87 L1452.5,479.71 L1454.0,479.56 L1455.5,479.40 L1457.0,479.25 L1458.5,479.10 L1460.0,478.95 L1461.5,478.80 L1463.0,478.65 L1464.5,478.51 L1466.0,478.36 L1467.5,478.22 L1469.0,478.08 L1470.5,477.94 L1472.0,477.80 L1473.5,477.66 L1475.0,477.52 L1476.5,477.39 L1478.0,477.25 L1479.5,477.12 L1481.0,476.99 L1482.5,476.86 L1484.0,476.73 L1485.5,476.60 L1487.0,476.47 L1488.5,476.35 L1490.0,476.23 L1491.5,476.10 L1493.0,475.98 L1494.5,475.86 L1496.0,475.74 L1497.5,475.62 L1499.0,475.51 L1500.5,475.39 L1502.0,475.28 L1503.5,475.16 L1505.0,475.05 L1506.5,474.94 L1508.0,474.83 L1509.5,474.72 L1511.0,474.62 L1512.5,474.51 L1514.0,474.40 L1515.5,474.30 L1517.0,474.20 L1518.5,474.10 L1520.0,474.00 L1521.5,473.90 L1523.0,473.80 L1524.5,473.70 L1526.0,473.60 L1527.5,473.51 L1529.0,473.41 L1530.5,473.32 L1532.0,473.23 L1533.5,473.14 L1535.0,473.05 L1536.5,472.96 L1538.0,472.87 L1539.5,472.78 L1541.0,472.70 L1542.5,472.61 L1544.0,472.53 L1545.5,472.45 L1547.0,472.37 L1548.5,472.28 L1550.0,472.20 L1551.5,472.13 L1553.0,472.05 L1554.5,471.97 L1556.0,471.89 L1557.5,471.82 L1559.0,471.74 L1560.5,471.67 L1562.0,471.60 L1563.5,471.53 L1565.0,471.46 L1566.5,471.39 L1568.0,471.32 L1569.5,471.25 L1571.0,471.18 L1572.5,471.12 L1574.0,471.05 L1575.5,470.99 L1577.0,470.92 L1578.5,470.86 L1580.0,470.80 L1581.5,470.74 L1583.0,470.68 L1584.5,470.62 L1586.0,470.56 L1587.5,470.50 L1589.0,470.44 L1590.5,470.39 L1592.0,470.33 L1593.5,470.28 L1595.0,470.22 L1596.5,470.17 L1598.0,470.12 L1599.5,470.06 L1601.0,470.01 L1602.5,469.96 L1604.0,469.91 L1605.5,469.86 L1607.0,469.82 L1608.5,469.77 L1610.0,469.72 L1611.5,469.68 L1613.0,469.63 L1614.5,469.59 L1616.0,469.54 L1617.5,469.50 L1619.0,469.45 L1620.5,469.41 L1622.0,469.37 L1623.5,469.33 L1625.0,469.29 L1626.5,469.25 L1628.0,469.21 L1629.5,469.17 L1631.0,469.14 L1632.5,469.10 L1634.0,469.06 L1635.5,469.03 L1637.0,468.99 L1638.5,468.96 L1640.0,468.92 L1641.5,468.89 L1643.0,468.85 L1644.5,468.82 L1646.0,468.79 L1647.5,468.76 L1649.0,468.73 L1650.5,468.70 L1652.0,468.67 L1653.5,468.64 L1655.0,468.61 L1656.5,468.58 L1658.0,468.55 L1659.5,468.52 L1661.0,468.49 L1662.5,468.47 L1664.0,468.44 L1665.5,468.42 L1667.0,468.39 L1668.5,468.37 L1670.0,468.34 L1671.5,468.32 L1673.0,468.29 L1674.5,468.27 L1676.0,468.25 L1677.5,468.22 L1679.0,468.20 L1680.5,468.18 L1682.0,468.16 L1683.5,468.14 L1685.0,468.12 L1686.5,468.10 L1688.0,468.08 L1689.5,468.06 L1691.0,468.04 L1692.5,468.02 L1694.0,468.00 L1695.5,467.98 L1697.0,467.96 L1698.5,467.95 L1700.0,467.93 L1701.5,467.91 L1703.0,467.89 L1704.5,467.88 L1706.0,467.86 L1707.5,467.84 L1709.0,467.83 L1710.5,467.81 L1712.0,467.80 L1713.5,467.78 L1715.0,467.77 L1716.5,467.75 L1718.0,467.74 L1719.5,467.72 L1721.0,467.71 L1722.5,467.69 L1724.0,467.68 L1725.5,467.67 L1727.0,467.65 L1728.5,467.64 L1730.0,467.63 L1731.5,467.61 L1733.0,467.60 L1734.5,467.59 L1736.0,467.57 L1737.5,467.56 L1739.0,467.55 L1740.5,467.54 L1742.0,467.53 L1743.5,467.51 L1745.0,467.50 L1746.5,467.49 L1748.0,467.48 L1749.5,467.47 L1751.0,467.45 L1752.5,467.44 L1754.0,467.43 L1755.5,467.42 L1757.0,467.41 L1758.5,467.39 L1760.0,467.38 L1761.5,467.37 L1763.0,467.36 L1764.5,467.35 L1766.0,467.34 L1767.5,467.32 L1769.0,467.31 L1770.5,467.30 L1772.0,467.29 L1773.5,467.28 L1775.0,467.27 L1776.5,467.25 L1778.0,467.24 L1779.5,467.23 L1781.0,467.22 L1782.5,467.21 L1784.0,467.19 L1785.5,467.18 L1787.0,467.17 L1788.5,467.16 L1790.0,467.14 L1791.5,467.13 L1793.0,467.12 L1794.5,467.10 L1796.0,467.09 L1797.5,467.08 L1799.0,467.06 L1800.5,467.05 L1802.0,467.04 L1803.5,467.02 L1804.0,467.02 M1548.3,472.3 L1549.1,453.6 L1549.8,472.3" stroke="#0000ff" stroke-width="7.8"/>
<path d="M176.0,816.50 L177.5,816.00 L179.0,815.51 L180.5,815.02 L182.0,814.53 L183.5,814.04 L185.0,813.56 L186.5,813.08 L188.0,812.60 L189.5,812.13 L191.0,811.66 L192.5,811.20 L194.0,810.73 L195.5,810.27 L197.0,809.82 L198.5,809.37 L200.0,808.92 L201.5,808.47 L203.0,808.03 L204.5,807.59 L206.0,807.15 L207.5,806.72 L209.0,806.29 L210.5,805.86 L212.0,805.44 L213.5,805.02 L215.0,804.60 L216.5,804.19 L218.0,803.78 L219.5,803.37 L221.0,802.96 L222.5,802.56 L224.0,802.16 L225.5,801.76 L227.0,801.37 L228.5,800.98 L230.0,800.59 L231.5,800.21 L233.0,799.83 L234.5,799.45 L236.0,799.07 L237.5,798.70 L239.0,798.33 L240.5,797.96 L242.0,797.60 L243.5,797.24 L245.0,796.88 L246.5,796.52 L248.0,796.17 L249.5,795.82 L251.0,795.47 L252.5,795.13 L254.0,794.78 L255.5,794.44 L257.0,794.11 L258.5,793.77 L260.0,793.44 L261.5,793.11 L263.0,792.78 L264.5,792.46 L266.0,792.14 L267.5,791.82 L269.0,791.50 L270.5,791.19 L272.0,790.88 L273.5,790.57 L275.0,790.26 L276.5,789.96 L278.0,789.66 L279.5,789.36 L281.0,789.06 L282.5,788.76 L284.0,788.47 L285.5,788.18 L287.0,787.89 L288.5,787.60 L290.0,787.32 L291.5,787.03 L293.0,786.75 L294.5,786.47 L296.0,786.20 L297.5,785.92 L299.0,785.65 L300.5,785.37 L302.0,785.10 L303.5,784.83 L305.0,784.57 L306.5,784.30 L308.0,784.04 L309.5,783.77 L311.0,783.51 L312.5,783.25 L314.0,782.99 L315.5,782.73 L317.0,782.48 L318.5,782.22 L320.0,781.97 L321.5,781.71 L323.0,781.46 L324.5,781.21 L326.0,780.96 L327.5,780.71 L329.0,780.46 L330.5,780.21 L332.0,779.97 L333.5,779.72 L335.0,779.47 L336.5,779.23 L338.0,778.98 L339.5,778.74 L341.0,778.50 L342.5,778.25 L344.0,778.01 L345.5,777.77 L347.0,777.53 L348.5,777.29 L350.0,777.05 L351.5,776.80 L353.0,776.56 L354.5,776.32 L356.0,776.08 L357.5,775.84 L359.0,775.60 L360.5,775.36 L362.0,775.12 L363.5,774.88 L365.0,774.64 L366.5,774.40 L368.0,774.16 L369.5,773.92 L371.0,773.68 L372.5,773.43 L374.0,773.19 L375.5,772.95 L377.0,772.70 L378.5,772.46 L380.0,772.22 L381.5,771.97 L383.0,771.72 L384.5,771.48 L386.0,771.23 L387.5,770.98 L389.0,770.73 L390.5,770.48 L392.0,770.23 L393.5,769.98 L395.0,769.73 L396.5,769.47 L398.0,769.22 L399.5,768.96 L401.0,768.71 L402.5,768.45 L404.0,768.19 L405.5,767.93 L407.0,767.67 L408.5,767.40 L410.0,767.14 L411.5,766.87 L413.0,766.60 L414.5,766.33 L416.0,766.06 L417.5,765.79 L419.0,765.52 L420.5,765.24 L422.0,764.96 L423.5,764.68 L425.0,764.40 L426.5,764.12 L428.0,763.84 L429.5,763.55 L431.0,763.27 L432.5,762.98 L434.0,762.69 L435.5,762.39 L437.0,762.10 L438.5,761.80 L440.0,761.50 L441.5,761.20 L443.0,760.90 L444.5,760.60 L446.0,760.29 L447.5,759.98 L449.0,759.67 L450.5,759.36 L452.0,759.05 L453.5,758.73 L455.0,758.41 L456.5,758.09 L458.0,757.77 L459.5,757.44 L461.0,757.12 L462.5,756.79 L464.0,756.46 L465.5,756.12 L467.0,755.79 L468.5,755.45 L470.0,755.11 L471.5,754.76 L473.0,754.42 L474.5,754.07 L476.0,753.72 L477.5,753.36 L479.0,753.01 L480.5,752.65 L482.0,752.29 L483.5,751.92 L485.0,751.56 L486.5,751.19 L488.0,750.81 L489.5,750.44 L491.0,750.06 L492.5,749.68 L494.0,749.30 L495.5,748.91 L497.0,748.53 L498.5,748.13 L500.0,747.74 L501.5,747.34 L503.0,746.94 L504.5,746.54 L506.0,746.13 L507.5,745.72 L509.0,745.31 L510.5,744.90 L512.0,744.48 L513.5,744.06 L515.0,743.63 L516.5,743.20 L518.0,742.77 L519.5,742.34 L521.0,741.90 L522.5,741.46 L524.0,741.02 L525.5,740.57 L527.0,740.12 L528.5,739.66 L530.0,739.21 L531.5,738.75 L533.0,738.28 L534.5,737.81 L536.0,737.34 L537.5,736.87 L539.0,736.39 L540.5,735.91 L542.0,735.42 L543.5,734.93 L545.0,734.44 L546.5,733.94 L548.0,733.44 L549.5,732.94 L551.0,732.43 L552.5,731.92 L554.0,731.41 L555.5,730.89 L557.0,730.36 L558.5,729.84 L560.0,729.31 L561.5,728.77 L563.0,728.23 L564.5,727.69 L566.0,727.14 L567.5,726.59 L569.0,726.04 L570.5,725.48 L572.0,724.92 L573.5,724.35 L575.0,723.78 L576.5,723.21 L578.0,722.63 L579.5,722.04 L581.0,721.45 L582.5,720.86 L584.0,720.27 L585.5,719.67 L587.0,719.06 L588.5,718.45 L590.0,717.84 L591.5,717.22 L593.0,716.60 L594.5,715.97 L596.0,715.34 L597.5,714.70 L599.0,714.06 L600.5,713.42 L602.0,712.77 L603.5,712.11 L605.0,711.45 L606.5,710.79 L608.0,710.12 L609.5,709.45 L611.0,708.77 L612.5,708.09 L614.0,707.40 L615.5,706.71 L617.0,706.01 L618.5,705.31 L620.0,704.60 L621.5,703.89 L623.0,703.17 L624.5,702.45 L626.0,701.72 L627.5,700.99 L629.0,700.26 L630.5,699.51 L632.0,698.77 L633.5,698.02 L635.0,697.26 L636.5,696.50 L638.0,695.73 L639.5,694.96 L641.0,694.18 L642.5,693.39 L644.0,692.61 L645.5,691.82 L647.0,691.02 L648.5,690.22 L650.0,689.42 L651.5,688.61 L653.0,687.81 L654.5,687.00 L656.0,686.18 L657.5,685.37 L659.0,684.56 L660.5,683.74 L662.0,682.93 L663.5,682.11 L665.0,681.29 L666.5,680.48 L668.0,679.67 L669.5,678.85 L671.0,678.04 L672.5,677.23 L674.0,676.42 L675.5,675.61 L677.0,674.80 L678.5,673.98 L680.0,673.17 L681.5,672.34 L683.0,671.52 L684.5,670.68 L686.0,669.84 L687.5,668.99 L689.0,668.14 L690.5,667.27 L692.0,666.40 L693.5,665.52 L695.0,664.62 L696.5,663.72 L698.0,662.80 L699.5,661.88 L701.0,660.94 L702.5,659.98 L704.0,659.02 L705.5,658.04 L707.0,657.04 L708.5,656.03 L710.0,655.01 L711.5,653.96 L713.0,652.91 L714.5,651.84 L716.0,650.75 L717.5,649.66 L719.0,648.55 L720.5,647.42 L722.0,646.29 L723.5,645.15 L725.0,644.00 L726.5,642.83 L728.0,641.66 L729.5,640.48 L731.0,639.30 L732.5,638.10 L734.0,636.90 L735.5,635.69 L737.0,634.48 L738.5,633.26 L740.0,632.04 L741.5,630.82 L743.0,629.59 L744.5,628.36 L746.0,627.13 L747.5,625.90 L749.0,624.66 L750.5,623.43 L752.0,622.20 L753.5,620.97 L755.0,619.74 L756.5,618.51 L758.0,617.28 L759.5,616.06 L761.0,614.85 L762.5,613.63 L764.0,612.43 L765.5,611.23 L767.0,610.03 L768.5,608.84 L770.0,607.66 L771.5,606.48 L773.0,605.31 L774.5,604.14 L776.0,602.97 L777.5,601.81 L779.0,600.65 L780.5,599.50 L782.0,598.35 L783.5,597.20 L785.0,596.05 L786.5,594.90 L788.0,593.76 L789.5,592.62 L791.0,591.48 L792.5,590.33 L794.0,589.19 L795.5,588.05 L797.0,586.91 L798.5,585.76 L800.0,584.62 L801.5,583.47 L803.0,582.32 L804.5,581.17 L806.0,580.02 L807.5,578.86 L809.0,577.70 L810.5,576.54 L812.0,575.37 L813.5,574.20 L815.0,573.02 L816.5,571.84 L818.0,570.66 L819.5,569.46 L821.0,568.26 L822.5,567.06 L824.0,565.85 L825.5,564.63 L827.0,563.40 L828.5,562.17 L830.0,560.93 L831.5,559.68 L833.0,558.42 L834.5,557.16 L836.0,555.89 L837.5,554.62 L839.0,553.34 L840.5,552.07 L842.0,550.78 L843.5,549.50 L845.0,548.21 L846.5,546.93 L848.0,545.64 L849.5,544.35 L851.0,543.07 L852.5,541.79 L854.0,540.50 L855.5,539.23 L857.0,537.96 L858.5,536.69 L860.0,535.42 L861.5,534.17 L863.0,532.92 L864.5,531.67 L866.0,530.44 L867.5,529.21 L869.0,528.00 L870.5,526.79 L872.0,525.59 L873.5,524.41 L875.0,523.24 L876.5,522.08 L878.0,520.93 L879.5,519.80 L881.0,518.68 L882.5,517.58 L884.0,516.49L884.0,516.52 L885.5,515.84 L887.0,515.15 L888.5,514.45 L890.0,513.75 L891.5,513.05 L893.0,512.34 L894.5,511.62 L896.0,510.90 L897.5,510.18 L899.0,509.45 L900.5,508.72 L902.0,507.99 L903.5,507.25 L905.0,506.52 L906.5,505.78 L908.0,505.03 L909.5,504.29 L911.0,503.54 L912.5,502.80 L914.0,502.05 L915.5,501.31 L917.0,500.56 L918.5,499.81 L920.0,499.06 L921.5,498.32 L923.0,497.58 L924.5,496.83 L926.0,496.09 L927.5,495.35 L929.0,494.62 L930.5,493.88 L932.0,493.15 L933.5,492.42 L935.0,491.70 L936.5,490.98 L938.0,490.26 L939.5,489.55 L941.0,488.84 L942.5,488.14 L944.0,487.44 L945.5,486.75 L947.0,486.06 L948.5,485.38 L950.0,484.71 L951.5,484.04 L953.0,483.39 L954.5,482.73 L956.0,482.09 L957.5,481.45 L959.0,480.81 L960.5,480.18 L962.0,479.56 L963.5,478.95 L965.0,478.34 L966.5,477.74 L968.0,477.14 L969.5,476.55 L971.0,475.96 L972.5,475.38 L974.0,474.81 L975.5,474.24 L977.0,473.67 L978.5,473.11 L980.0,472.56 L981.5,472.01 L983.0,471.47 L984.5,470.93 L986.0,470.39 L987.5,469.87 L989.0,469.34 L990.5,468.82 L992.0,468.30 L993.5,467.79 L995.0,467.29 L996.5,466.78 L998.0,466.28 L999.5,465.79 L1001.0,465.30 L1002.5,464.81 L1004.0,464.33 L1005.5,463.85 L1007.0,463.37 L1008.5,462.90 L1010.0,462.43 L1011.5,461.96 L1013.0,461.50 L1014.5,461.04 L1016.0,460.58 L1017.5,460.13 L1019.0,459.68 L1020.5,459.23 L1022.0,458.78 L1023.5,458.34 L1025.0,457.90 L1026.5,457.46 L1028.0,457.02 L1029.5,456.59 L1031.0,456.16 L1032.5,455.73 L1034.0,455.30 L1035.5,454.88 L1037.0,454.45 L1038.5,454.03 L1040.0,453.61 L1041.5,453.19 L1043.0,452.77 L1044.5,452.36 L1046.0,451.94 L1047.5,451.53 L1049.0,451.12 L1050.5,450.70 L1052.0,450.29 L1053.5,449.88 L1055.0,449.47 L1056.5,449.07 L1058.0,448.66 L1059.5,448.25 L1061.0,447.84 L1062.5,447.44 L1064.0,447.03 L1065.5,446.62 L1067.0,446.22 L1068.5,445.81 L1070.0,445.41 L1071.5,445.00 L1073.0,444.59 L1074.5,444.19 L1076.0,443.78 L1077.5,443.37 L1079.0,442.96 L1080.5,442.55 L1082.0,442.14 L1083.5,441.73 L1085.0,441.32 L1086.5,440.90 L1088.0,440.49 L1089.5,440.08 L1091.0,439.66 L1092.5,439.25 L1094.0,438.83 L1095.5,438.41 L1097.0,437.99 L1098.5,437.58 L1100.0,437.15 L1101.5,436.73 L1103.0,436.31 L1104.5,435.89 L1106.0,435.46 L1107.5,435.04 L1109.0,434.61 L1110.5,434.19 L1112.0,433.76 L1113.5,433.33 L1115.0,432.90 L1116.5,432.47 L1118.0,432.03 L1119.5,431.60 L1121.0,431.16 L1122.5,430.73 L1124.0,430.29 L1125.5,429.85 L1127.0,429.41 L1128.5,428.97 L1130.0,428.53 L1131.5,428.08 L1133.0,427.64 L1134.5,427.19 L1136.0,426.74 L1137.5,426.29 L1139.0,425.84 L1140.5,425.39 L1142.0,424.93 L1143.5,424.48 L1145.0,424.02 L1146.5,423.56 L1148.0,423.10 L1149.5,422.64 L1151.0,422.17 L1152.5,421.71 L1154.0,421.24 L1155.5,420.77 L1157.0,420.30 L1158.5,419.83 L1160.0,419.36 L1161.5,418.88 L1163.0,418.40 L1164.5,417.92 L1166.0,417.44 L1167.5,416.96 L1169.0,416.48 L1170.5,415.99 L1172.0,415.50 L1173.5,415.01 L1175.0,414.52 L1176.5,414.02 L1178.0,413.53 L1179.5,413.03 L1181.0,412.53 L1182.5,412.03 L1184.0,411.52 L1185.5,411.01 L1187.0,410.51 L1188.5,409.99 L1190.0,409.48 L1191.5,408.97 L1193.0,408.45 L1194.5,407.93 L1196.0,407.41 L1197.5,406.88 L1199.0,406.36 L1200.5,405.83 L1202.0,405.30 L1203.5,404.76 L1205.0,404.23 L1206.5,403.69 L1208.0,403.15 L1209.5,402.61 L1211.0,402.06 L1212.5,401.52 L1214.0,400.97 L1215.5,400.42 L1217.0,399.87 L1218.5,399.32 L1220.0,398.76 L1221.5,398.21 L1223.0,397.65 L1224.5,397.09 L1226.0,396.54 L1227.5,395.98 L1229.0,395.42 L1230.5,394.86 L1232.0,394.29 L1233.5,393.73 L1235.0,393.17 L1236.5,392.61 L1238.0,392.05 L1239.5,391.48 L1241.0,390.92 L1242.5,390.36 L1244.0,389.80 L1245.5,389.23 L1247.0,388.67 L1248.5,388.11 L1250.0,387.55 L1251.5,386.99 L1253.0,386.43 L1254.5,385.87 L1256.0,385.32 L1257.5,384.76 L1259.0,384.21 L1260.5,383.65 L1262.0,383.10 L1263.5,382.55 L1265.0,382.00 L1266.5,381.45 L1268.0,380.91 L1269.5,380.36 L1271.0,379.82 L1272.5,379.28 L1274.0,378.75 L1275.5,378.21 L1277.0,377.68 L1278.5,377.15 L1280.0,376.62 L1281.5,376.10 L1283.0,375.57 L1284.5,375.06 L1286.0,374.54 L1287.5,374.03 L1289.0,373.52 L1290.5,373.01 L1292.0,372.51 L1293.5,372.01 L1295.0,371.51 L1296.5,371.02 L1298.0,370.53 L1299.5,370.05 L1301.0,369.56 L1302.5,369.09 L1304.0,368.62 L1305.5,368.15 L1307.0,367.68 L1308.5,367.22 L1310.0,366.77 L1311.5,366.32 L1313.0,365.87 L1314.5,365.43 L1316.0,365.00 L1317.5,364.57 L1319.0,364.14 L1320.5,363.72 L1322.0,363.30 L1323.5,362.88 L1325.0,362.47 L1326.5,362.07 L1328.0,361.67 L1329.5,361.27 L1331.0,360.88 L1332.5,360.49 L1334.0,360.11 L1335.5,359.73 L1337.0,359.35 L1338.5,358.98 L1340.0,358.61 L1341.5,358.25 L1343.0,357.89 L1344.5,357.53 L1346.0,357.18 L1347.5,356.83 L1349.0,356.49 L1350.5,356.15 L1352.0,355.81 L1353.5,355.48 L1355.0,355.15 L1356.5,354.83 L1358.0,354.51 L1359.5,354.19 L1361.0,353.88 L1362.5,353.57 L1364.0,353.26 L1365.5,352.96 L1367.0,352.66 L1368.5,352.37 L1370.0,352.07 L1371.5,351.79 L1373.0,351.50 L1374.5,351.22 L1376.0,350.94 L1377.5,350.67 L1379.0,350.39 L1380.5,350.13 L1382.0,349.86 L1383.5,349.60 L1385.0,349.34 L1386.5,349.09 L1388.0,348.83 L1389.5,348.58 L1391.0,348.34 L1392.5,348.10 L1394.0,347.86 L1395.5,347.62 L1397.0,347.39 L1398.5,347.15 L1400.0,346.93 L1401.5,346.70 L1403.0,346.48 L1404.5,346.26 L1406.0,346.04 L1407.5,345.83 L1409.0,345.62 L1410.5,345.41 L1412.0,345.20 L1413.5,345.00 L1415.0,344.80 L1416.5,344.60 L1418.0,344.41 L1419.5,344.22 L1421.0,344.03 L1422.5,343.84 L1424.0,343.65 L1425.5,343.47 L1427.0,343.29 L1428.5,343.11 L1430.0,342.94 L1431.5,342.76 L1433.0,342.59 L1434.5,342.42 L1436.0,342.26 L1437.5,342.09 L1439.0,341.93 L1440.5,341.77 L1442.0,341.61 L1443.5,341.46 L1445.0,341.30 L1446.5,341.15 L1448.0,341.00 L1449.5,340.85 L1451.0,340.71 L1452.5,340.56 L1454.0,340.42 L1455.5,340.28 L1457.0,340.14 L1458.5,340.01 L1460.0,339.87 L1461.5,339.74 L1463.0,339.61 L1464.5,339.48 L1466.0,339.35 L1467.5,339.22 L1469.0,339.10 L1470.5,338.98 L1472.0,338.85 L1473.5,338.73 L1475.0,338.61 L1476.5,338.50 L1478.0,338.38 L1479.5,338.27 L1481.0,338.15 L1482.5,338.04 L1484.0,337.93 L1485.5,337.82 L1487.0,337.71 L1488.5,337.61 L1490.0,337.50 L1491.5,337.40 L1493.0,337.29 L1494.5,337.19 L1496.0,337.09 L1497.5,336.99 L1499.0,336.89 L1500.5,336.79 L1502.0,336.69 L1503.5,336.60 L1505.0,336.50 L1506.5,336.41 L1508.0,336.31 L1509.5,336.22 L1511.0,336.13 L1512.5,336.04 L1514.0,335.95 L1515.5,335.86 L1517.0,335.77 L1518.5,335.68 L1520.0,335.59 L1521.5,335.50 L1523.0,335.41 L1524.5,335.33 L1526.0,335.24 L1527.5,335.16 L1529.0,335.07 L1530.5,334.99 L1532.0,334.90 L1533.5,334.82 L1535.0,334.73 L1536.5,334.65 L1538.0,334.57 L1539.5,334.48 L1541.0,334.40 L1542.5,334.32 L1544.0,334.24 L1545.5,334.15 L1547.0,334.07 L1548.5,333.99 L1550.0,333.91 L1551.5,333.82 L1553.0,333.74 L1554.5,333.66 L1556.0,333.58 L1557.5,333.49 L1559.0,333.41 L1560.5,333.33 L1562.0,333.24 L1563.5,333.16 L1565.0,333.08 L1566.5,332.99 L1568.0,332.91 L1569.5,332.82 L1571.0,332.74 L1572.5,332.65 L1574.0,332.57 L1575.5,332.48 L1577.0,332.40 L1578.5,332.31 L1580.0,332.22 L1581.5,332.14 L1583.0,332.05 L1584.5,331.97 L1586.0,331.88 L1587.5,331.80 L1589.0,331.71 L1590.5,331.63 L1592.0,331.55 L1593.5,331.46 L1595.0,331.38 L1596.5,331.30 L1598.0,331.22 L1599.5,331.14 L1601.0,331.06 L1602.5,330.99 L1604.0,330.91 L1605.5,330.83 L1607.0,330.76 L1608.5,330.69 L1610.0,330.61 L1611.5,330.54 L1613.0,330.47 L1614.5,330.41 L1616.0,330.34 L1617.5,330.28 L1619.0,330.21 L1620.5,330.15 L1622.0,330.09 L1623.5,330.04 L1625.0,329.98 L1626.5,329.93 L1628.0,329.88 L1629.5,329.83 L1631.0,329.78 L1632.5,329.74 L1634.0,329.70 L1635.5,329.65 L1637.0,329.62 L1638.5,329.58 L1640.0,329.54 L1641.5,329.51 L1643.0,329.48 L1644.5,329.45 L1646.0,329.42 L1647.5,329.39 L1649.0,329.36 L1650.5,329.33 L1652.0,329.30 L1653.5,329.28 L1655.0,329.25 L1656.5,329.23 L1658.0,329.20 L1659.5,329.17 L1661.0,329.15 L1662.5,329.12 L1664.0,329.10 L1665.5,329.07 L1667.0,329.04 L1668.5,329.01 L1670.0,328.98 L1671.5,328.95 L1673.0,328.92 L1674.5,328.89 L1676.0,328.85 L1677.5,328.81 L1679.0,328.78 L1680.5,328.74 L1682.0,328.70 L1683.5,328.65 L1685.0,328.61 L1686.5,328.56 L1688.0,328.51 L1689.5,328.45 L1691.0,328.40 L1692.5,328.34 L1694.0,328.28 L1695.5,328.21 L1697.0,328.14 L1698.5,328.07 L1700.0,328.00 L1701.5,327.92 L1703.0,327.84 L1704.5,327.75 L1706.0,327.66 L1707.5,327.57 L1709.0,327.47 L1710.5,327.37 L1712.0,327.26 L1713.5,327.15 L1715.0,327.04 L1716.5,326.92 L1718.0,326.79 L1719.5,326.67 L1721.0,326.54 L1722.5,326.40 L1724.0,326.26 L1725.5,326.11 L1727.0,325.96 L1728.5,325.81 L1730.0,325.65 L1731.5,325.48 L1733.0,325.32 L1734.5,325.14 L1736.0,324.96 L1737.5,324.78 L1739.0,324.59 L1740.5,324.40 L1742.0,324.20 L1743.5,324.00 L1745.0,323.79 L1746.5,323.57 L1748.0,323.35 L1749.5,323.13 L1751.0,322.90 L1752.5,322.66 L1754.0,322.42 L1755.5,322.18 L1757.0,321.93 L1758.5,321.67 L1760.0,321.41 L1761.5,321.14 L1763.0,320.86 L1764.5,320.58 L1766.0,320.30 L1767.5,320.01 L1769.0,319.71 L1770.5,319.41 L1772.0,319.10 L1773.5,318.78 L1775.0,318.46 L1776.5,318.13 L1778.0,317.80 L1779.5,317.46 L1781.0,317.11 L1782.5,316.76 L1784.0,316.40 L1785.5,316.03 L1787.0,315.66 L1788.5,315.28 L1790.0,314.90 L1791.5,314.51 L1793.0,314.11 L1794.5,313.70 L1796.0,313.29 L1797.5,312.87 L1799.0,312.45 L1800.5,312.02 L1802.0,311.58 L1803.5,311.13 L1804.0,310.98 M1573.2,332.6 L1574.0,322.0 L1574.8,332.6" stroke="#009700" stroke-width="8"/>
<path d="M176.0,953.53 L177.5,951.95 L179.0,950.37 L180.5,948.80 L182.0,947.23 L183.5,945.66 L185.0,944.10 L186.5,942.54 L188.0,940.99 L189.5,939.45 L191.0,937.91 L192.5,936.37 L194.0,934.84 L195.5,933.32 L197.0,931.79 L198.5,930.28 L200.0,928.77 L201.5,927.26 L203.0,925.77 L204.5,924.27 L206.0,922.78 L207.5,921.30 L209.0,919.82 L210.5,918.35 L212.0,916.88 L213.5,915.42 L215.0,913.97 L216.5,912.52 L218.0,911.07 L219.5,909.64 L221.0,908.20 L222.5,906.78 L224.0,905.36 L225.5,903.95 L227.0,902.54 L228.5,901.14 L230.0,899.74 L231.5,898.35 L233.0,896.97 L234.5,895.59 L236.0,894.22 L237.5,892.86 L239.0,891.50 L240.5,890.15 L242.0,888.81 L243.5,887.47 L245.0,886.14 L246.5,884.82 L248.0,883.50 L249.5,882.19 L251.0,880.88 L252.5,879.59 L254.0,878.30 L255.5,877.02 L257.0,875.74 L258.5,874.47 L260.0,873.21 L261.5,871.96 L263.0,870.71 L264.5,869.47 L266.0,868.24 L267.5,867.01 L269.0,865.79 L270.5,864.58 L272.0,863.38 L273.5,862.19 L275.0,861.00 L276.5,859.82 L278.0,858.65 L279.5,857.48 L281.0,856.33 L282.5,855.18 L284.0,854.04 L285.5,852.91 L287.0,851.78 L288.5,850.67 L290.0,849.56 L291.5,848.46 L293.0,847.36 L294.5,846.28 L296.0,845.21 L297.5,844.14 L299.0,843.08 L300.5,842.03 L302.0,840.99 L303.5,839.95 L305.0,838.93 L306.5,837.91 L308.0,836.91 L309.5,835.91 L311.0,834.92 L312.5,833.94 L314.0,832.96 L315.5,832.00 L317.0,831.05 L318.5,830.10 L320.0,829.17 L321.5,828.24 L323.0,827.32 L324.5,826.41 L326.0,825.51 L327.5,824.62 L329.0,823.74 L330.5,822.87 L332.0,822.01 L333.5,821.15 L335.0,820.31 L336.5,819.48 L338.0,818.65 L339.5,817.83 L341.0,817.02 L342.5,816.22 L344.0,815.43 L345.5,814.65 L347.0,813.87 L348.5,813.10 L350.0,812.34 L351.5,811.59 L353.0,810.85 L354.5,810.11 L356.0,809.38 L357.5,808.66 L359.0,807.94 L360.5,807.24 L362.0,806.53 L363.5,805.84 L365.0,805.15 L366.5,804.47 L368.0,803.79 L369.5,803.13 L371.0,802.46 L372.5,801.81 L374.0,801.15 L375.5,800.51 L377.0,799.87 L378.5,799.24 L380.0,798.61 L381.5,797.98 L383.0,797.36 L384.5,796.75 L386.0,796.14 L387.5,795.54 L389.0,794.94 L390.5,794.35 L392.0,793.76 L393.5,793.17 L395.0,792.59 L396.5,792.01 L398.0,791.44 L399.5,790.87 L401.0,790.30 L402.5,789.74 L404.0,789.18 L405.5,788.62 L407.0,788.07 L408.5,787.52 L410.0,786.97 L411.5,786.43 L413.0,785.89 L414.5,785.35 L416.0,784.81 L417.5,784.28 L419.0,783.74 L420.5,783.21 L422.0,782.69 L423.5,782.16 L425.0,781.63 L426.5,781.11 L428.0,780.59 L429.5,780.07 L431.0,779.55 L432.5,779.03 L434.0,778.52 L435.5,778.00 L437.0,777.48 L438.5,776.97 L440.0,776.45 L441.5,775.94 L443.0,775.42 L444.5,774.91 L446.0,774.40 L447.5,773.88 L449.0,773.37 L450.5,772.85 L452.0,772.34 L453.5,771.82 L455.0,771.30 L456.5,770.79 L458.0,770.27 L459.5,769.75 L461.0,769.23 L462.5,768.70 L464.0,768.18 L465.5,767.65 L467.0,767.13 L468.5,766.60 L470.0,766.06 L471.5,765.53 L473.0,764.99 L474.5,764.46 L476.0,763.91 L477.5,763.37 L479.0,762.82 L480.5,762.28 L482.0,761.72 L483.5,761.17 L485.0,760.61 L486.5,760.05 L488.0,759.48 L489.5,758.91 L491.0,758.34 L492.5,757.76 L494.0,757.18 L495.5,756.60 L497.0,756.01 L498.5,755.41 L500.0,754.82 L501.5,754.21 L503.0,753.61 L504.5,752.99 L506.0,752.38 L507.5,751.76 L509.0,751.13 L510.5,750.50 L512.0,749.86 L513.5,749.21 L515.0,748.56 L516.5,747.91 L518.0,747.25 L519.5,746.58 L521.0,745.91 L522.5,745.22 L524.0,744.54 L525.5,743.85 L527.0,743.15 L528.5,742.44 L530.0,741.73 L531.5,741.00 L533.0,740.28 L534.5,739.54 L536.0,738.80 L537.5,738.05 L539.0,737.29 L540.5,736.52 L542.0,735.75 L543.5,734.97 L545.0,734.18 L546.5,733.38 L548.0,732.57 L549.5,731.76 L551.0,730.93 L552.5,730.10 L554.0,729.26 L555.5,728.41 L557.0,727.55 L558.5,726.68 L560.0,725.80 L561.5,724.91 L563.0,724.02 L564.5,723.11 L566.0,722.19 L567.5,721.26 L569.0,720.32 L570.5,719.38 L572.0,718.42 L573.5,717.45 L575.0,716.47 L576.5,715.48 L578.0,714.48 L579.5,713.47 L581.0,712.44 L582.5,711.41 L584.0,710.36 L585.5,709.31 L587.0,708.24 L588.5,707.17 L590.0,706.08 L591.5,705.00 L593.0,703.90 L594.5,702.80 L596.0,701.70 L597.5,700.60 L599.0,699.49 L600.5,698.38 L602.0,697.27 L603.5,696.17 L605.0,695.06 L606.5,693.96 L608.0,692.86 L609.5,691.77 L611.0,690.68 L612.5,689.60 L614.0,688.52 L615.5,687.45 L617.0,686.40 L618.5,685.35 L620.0,684.31 L621.5,683.29 L623.0,682.28 L624.5,681.28 L626.0,680.30 L627.5,679.33 L629.0,678.38 L630.5,677.44 L632.0,676.53 L633.5,675.63 L635.0,674.76 L636.5,673.91 L638.0,673.07 L639.5,672.27 L641.0,671.48 L642.5,670.72 L644.0,669.98 L645.5,669.27 L647.0,668.58 L648.5,667.91 L650.0,667.26 L651.5,666.64 L653.0,666.04 L654.5,665.46 L656.0,664.90 L657.5,664.37 L659.0,663.85 L660.5,663.36 L662.0,662.89 L663.5,662.44 L665.0,662.02 L666.5,661.61 L668.0,661.22 L669.5,660.86 L671.0,660.51 L672.5,660.19 L674.0,659.88 L675.5,659.60 L677.0,659.33 L678.5,659.08 L680.0,658.86 L681.5,658.65 L683.0,658.45 L684.5,658.27 L686.0,658.10 L687.5,657.95 L689.0,657.80 L690.5,657.67 L692.0,657.54 L693.5,657.41 L695.0,657.30 L696.5,657.18 L698.0,657.07 L699.5,656.96 L701.0,656.85 L702.5,656.73 L704.0,656.62 L705.5,656.49 L707.0,656.37 L708.5,656.23 L710.0,656.09 L711.5,655.94 L713.0,655.77 L714.5,655.60 L716.0,655.41 L717.5,655.21 L719.0,654.99 L720.5,654.76 L722.0,654.51 L723.5,654.25 L725.0,653.96 L726.5,653.66 L728.0,653.34 L729.5,652.99 L731.0,652.62 L732.5,652.23 L734.0,651.81 L735.5,651.37 L737.0,650.90 L738.5,650.41 L740.0,649.88 L741.5,649.33 L743.0,648.74 L744.5,648.13 L746.0,647.48 L747.5,646.80 L749.0,646.08 L750.5,645.34 L752.0,644.55 L753.5,643.74 L755.0,642.90 L756.5,642.03 L758.0,641.12 L759.5,640.19 L761.0,639.23 L762.5,638.24 L764.0,637.23 L765.5,636.19 L767.0,635.12 L768.5,634.03 L770.0,632.92 L771.5,631.78 L773.0,630.61 L774.5,629.43 L776.0,628.22 L777.5,627.00 L779.0,625.75 L780.5,624.48 L782.0,623.20 L783.5,621.90 L785.0,620.57 L786.5,619.24 L788.0,617.88 L789.5,616.51 L791.0,615.13 L792.5,613.73 L794.0,612.31 L795.5,610.88 L797.0,609.43 L798.5,607.97 L800.0,606.49 L801.5,605.00 L803.0,603.48 L804.5,601.95 L806.0,600.40 L807.5,598.83 L809.0,597.24 L810.5,595.63 L812.0,594.00 L813.5,592.35 L815.0,590.68 L816.5,588.99 L818.0,587.28 L819.5,585.54 L821.0,583.78 L822.5,582.00 L824.0,580.20 L825.5,578.37 L827.0,576.52 L828.5,574.64 L830.0,572.74 L831.5,570.81 L833.0,568.85 L834.5,566.86 L836.0,564.84 L837.5,562.79 L839.0,560.71 L840.5,558.59 L842.0,556.43 L843.5,554.24 L845.0,552.00 L846.5,549.73 L848.0,547.41 L849.5,545.05 L851.0,542.64 L852.5,540.18 L854.0,537.68 L855.5,535.12 L857.0,532.52 L858.5,529.86 L860.0,527.14 L861.5,524.37 L863.0,521.55 L864.5,518.66 L866.0,515.71 L867.5,512.71 L869.0,509.65 L870.5,506.54 L872.0,503.40 L873.5,500.23 L875.0,497.04 L876.5,493.84 L878.0,490.64 L879.5,487.45 L881.0,484.27 L882.5,481.13 L884.0,478.02 L885.5,474.95 L887.0,471.93 L888.5,468.95 L890.0,466.02 L891.5,463.13 L893.0,460.28 L894.5,457.46 L896.0,454.68 L897.5,451.92 L899.0,449.20 L900.5,446.51 L902.0,443.84 L903.5,441.19 L905.0,438.57 L906.5,435.96 L908.0,433.37 L909.5,430.79 L911.0,428.24 L912.5,425.70 L914.0,423.19 L915.5,420.70 L917.0,418.24 L918.5,415.80 L920.0,413.39 L921.5,411.02 L923.0,408.68 L924.5,406.37 L926.0,404.10 L927.5,401.87 L929.0,399.66 L930.5,397.46 L932.0,395.28 L933.5,393.10 L935.0,390.90 L936.5,388.70 L938.0,386.46 L939.5,384.20 L941.0,381.92 L942.5,379.62 L944.0,377.31 L945.5,375.00 L947.0,372.68 L948.5,370.38 L950.0,368.09 L951.5,365.82 L953.0,363.57 L954.5,361.36 L956.0,359.19 L957.5,357.06 L959.0,354.98 L960.5,352.94 L962.0,350.95 L963.5,349.01 L965.0,347.12 L966.5,345.27 L968.0,343.46 L969.5,341.70 L971.0,339.98 L972.5,338.30 L974.0,336.67 L975.5,335.07 L977.0,333.52 L978.5,332.00 L980.0,330.53 L981.5,329.09 L983.0,327.69 L984.5,326.33 L986.0,325.00 L987.5,323.71 L989.0,322.46 L990.5,321.24 L992.0,320.05 L993.5,318.90 L995.0,317.78 L996.5,316.69 L998.0,315.64 L999.5,314.61 L1001.0,313.62 L1002.5,312.65 L1004.0,311.71 L1005.5,310.81 L1007.0,309.92 L1008.5,309.07 L1010.0,308.24 L1011.5,307.44 L1013.0,306.66 L1014.5,305.91 L1016.0,305.17 L1017.5,304.47 L1019.0,303.78 L1020.5,303.12 L1022.0,302.48 L1023.5,301.86 L1025.0,301.25 L1026.5,300.67 L1028.0,300.11 L1029.5,299.56 L1031.0,299.03 L1032.5,298.52 L1034.0,298.02 L1035.5,297.54 L1037.0,297.07 L1038.5,296.62 L1040.0,296.18 L1041.5,295.76 L1043.0,295.35 L1044.5,294.95 L1046.0,294.56 L1047.5,294.19 L1049.0,293.83 L1050.5,293.48 L1052.0,293.14 L1053.5,292.81 L1055.0,292.50 L1056.5,292.19 L1058.0,291.89 L1059.5,291.61 L1061.0,291.33 L1062.5,291.06 L1064.0,290.80 L1065.5,290.54 L1067.0,290.30 L1068.5,290.06 L1070.0,289.82 L1071.5,289.60 L1073.0,289.38 L1074.5,289.16 L1076.0,288.95 L1077.5,288.75 L1079.0,288.55 L1080.5,288.36 L1082.0,288.17 L1083.5,287.98 L1085.0,287.80 L1086.5,287.62 L1088.0,287.44 L1089.5,287.27 L1091.0,287.10 L1092.5,286.94 L1094.0,286.78 L1095.5,286.62 L1097.0,286.46 L1098.5,286.31 L1100.0,286.15 L1101.5,286.00 L1103.0,285.85 L1104.5,285.71 L1106.0,285.56 L1107.5,285.42 L1109.0,285.27 L1110.5,285.13 L1112.0,284.99 L1113.5,284.85 L1115.0,284.71 L1116.5,284.57 L1118.0,284.43 L1119.5,284.29 L1121.0,284.15 L1122.5,284.01 L1124.0,283.87 L1125.5,283.72 L1127.0,283.58 L1128.5,283.43 L1130.0,283.29 L1131.5,283.14 L1133.0,282.99 L1134.5,282.84 L1136.0,282.68 L1137.5,282.53 L1139.0,282.37 L1140.5,282.21 L1142.0,282.04 L1143.5,281.88 L1145.0,281.71 L1146.5,281.54 L1148.0,281.37 L1149.5,281.19 L1151.0,281.02 L1152.5,280.84 L1154.0,280.67 L1155.5,280.49 L1157.0,280.32 L1158.5,280.14 L1160.0,279.96 L1161.5,279.79 L1163.0,279.62 L1164.5,279.44 L1166.0,279.27 L1167.5,279.10 L1169.0,278.93 L1170.5,278.77 L1172.0,278.61 L1173.5,278.44 L1175.0,278.29 L1176.5,278.13 L1178.0,277.98 L1179.5,277.84 L1181.0,277.69 L1182.5,277.55 L1184.0,277.42 L1185.5,277.29 L1187.0,277.17 L1188.5,277.05 L1190.0,276.93 L1191.5,276.83 L1193.0,276.72 L1194.5,276.63 L1196.0,276.54 L1197.5,276.46 L1199.0,276.38 L1200.5,276.31 L1202.0,276.25 L1203.5,276.20 L1205.0,276.16 L1206.5,276.12 L1208.0,276.09 L1209.5,276.07 L1211.0,276.05 L1212.5,276.05 L1214.0,276.04 L1215.5,276.05 L1217.0,276.06 L1218.5,276.08 L1220.0,276.11 L1221.5,276.14 L1223.0,276.17 L1224.5,276.21 L1226.0,276.26 L1227.5,276.31 L1229.0,276.37 L1230.5,276.43 L1232.0,276.49 L1233.5,276.56 L1235.0,276.64 L1236.5,276.71 L1238.0,276.79 L1239.5,276.88 L1241.0,276.97 L1242.5,277.06 L1244.0,277.15 L1245.5,277.25 L1247.0,277.35 L1248.5,277.45 L1250.0,277.55 L1251.5,277.65 L1253.0,277.76 L1254.5,277.87 L1256.0,277.98 L1257.5,278.09 L1259.0,278.20 L1260.5,278.31 L1262.0,278.42 L1263.5,278.53 L1265.0,278.65 L1266.5,278.76 L1268.0,278.87 L1269.5,278.98 L1271.0,279.09 L1272.5,279.20 L1274.0,279.31 L1275.5,279.42 L1277.0,279.53 L1278.5,279.63 L1280.0,279.74 L1281.5,279.84 L1283.0,279.94 L1284.5,280.05 L1286.0,280.15 L1287.5,280.25 L1289.0,280.35 L1290.5,280.44 L1292.0,280.54 L1293.5,280.64 L1295.0,280.73 L1296.5,280.83 L1298.0,280.92 L1299.5,281.02 L1301.0,281.11 L1302.5,281.20 L1304.0,281.29 L1305.5,281.38 L1307.0,281.47 L1308.5,281.56 L1310.0,281.64 L1311.5,281.73 L1313.0,281.81 L1314.5,281.90 L1316.0,281.98 L1317.5,282.06 L1319.0,282.15 L1320.5,282.23 L1322.0,282.31 L1323.5,282.39 L1325.0,282.47 L1326.5,282.54 L1328.0,282.62 L1329.5,282.70 L1331.0,282.77 L1332.5,282.85 L1334.0,282.92 L1335.5,283.00 L1337.0,283.07 L1338.5,283.14 L1340.0,283.21 L1341.5,283.28 L1343.0,283.35 L1344.5,283.42 L1346.0,283.49 L1347.5,283.55 L1349.0,283.62 L1350.5,283.69 L1352.0,283.75 L1353.5,283.81 L1355.0,283.88 L1356.5,283.94 L1358.0,284.00 L1359.5,284.06 L1361.0,284.13 L1362.5,284.19 L1364.0,284.24 L1365.5,284.30 L1367.0,284.36 L1368.5,284.42 L1370.0,284.48 L1371.5,284.53 L1373.0,284.59 L1374.5,284.64 L1376.0,284.70 L1377.5,284.75 L1379.0,284.80 L1380.5,284.85 L1382.0,284.90 L1383.5,284.96 L1385.0,285.01 L1386.5,285.06 L1388.0,285.10 L1389.5,285.15 L1391.0,285.20 L1392.5,285.25 L1394.0,285.29 L1395.5,285.34 L1397.0,285.39 L1398.5,285.43 L1400.0,285.48 L1401.5,285.52 L1403.0,285.56 L1404.5,285.61 L1406.0,285.65 L1407.5,285.69 L1409.0,285.73 L1410.5,285.77 L1412.0,285.81 L1413.5,285.85 L1415.0,285.89 L1416.5,285.93 L1418.0,285.96 L1419.5,286.00 L1421.0,286.04 L1422.5,286.07 L1424.0,286.11 L1425.5,286.15 L1427.0,286.18 L1428.5,286.21 L1430.0,286.25 L1431.5,286.28 L1433.0,286.31 L1434.5,286.35 L1436.0,286.38 L1437.5,286.41 L1439.0,286.44 L1440.5,286.47 L1442.0,286.50 L1443.5,286.53 L1445.0,286.56 L1446.5,286.59 L1448.0,286.62 L1449.5,286.65 L1451.0,286.67 L1452.5,286.70 L1454.0,286.73 L1455.5,286.75 L1457.0,286.78 L1458.5,286.81 L1460.0,286.83 L1461.5,286.86 L1463.0,286.88 L1464.5,286.90 L1466.0,286.93 L1467.5,286.95 L1469.0,286.97 L1470.5,287.00 L1472.0,287.02 L1473.5,287.04 L1475.0,287.06 L1476.5,287.08 L1478.0,287.10 L1479.5,287.12 L1481.0,287.14 L1482.5,287.16 L1484.0,287.18 L1485.5,287.20 L1487.0,287.22 L1488.5,287.24 L1490.0,287.26 L1491.5,287.28 L1493.0,287.30 L1494.5,287.31 L1496.0,287.33 L1497.5,287.35 L1499.0,287.36 L1500.5,287.38 L1502.0,287.40 L1503.5,287.41 L1505.0,287.43 L1506.5,287.44 L1508.0,287.46 L1509.5,287.47 L1511.0,287.49 L1512.5,287.50 L1514.0,287.52 L1515.5,287.53 L1517.0,287.55 L1518.5,287.56 L1520.0,287.57 L1521.5,287.59 L1523.0,287.60 L1524.5,287.61 L1526.0,287.62 L1527.5,287.64 L1529.0,287.65 L1530.5,287.66 L1532.0,287.67 L1533.5,287.69 L1535.0,287.70 L1536.5,287.71 L1538.0,287.72 L1539.5,287.73 L1541.0,287.74 L1542.5,287.75 L1544.0,287.76 L1545.5,287.77 L1547.0,287.79 L1548.5,287.80 L1550.0,287.81 L1551.5,287.82 L1553.0,287.83 L1554.5,287.84 L1556.0,287.85 L1557.5,287.86 L1559.0,287.87 L1560.5,287.88 L1562.0,287.89 L1563.5,287.90 L1565.0,287.90 L1566.5,287.91 L1568.0,287.92 L1569.5,287.93 L1571.0,287.94 L1572.5,287.95 L1574.0,287.96 L1575.5,287.97 L1577.0,287.98 L1578.5,287.99 L1580.0,288.00 L1581.5,288.01 L1583.0,288.02 L1584.5,288.03 L1586.0,288.03 L1587.5,288.04 L1589.0,288.05 L1590.5,288.06 L1592.0,288.07 L1593.5,288.08 L1595.0,288.09 L1596.5,288.10 L1598.0,288.11 L1599.5,288.12 L1601.0,288.13 L1602.5,288.14 L1604.0,288.15 L1605.5,288.16 L1607.0,288.17 L1608.5,288.18 L1610.0,288.18 L1611.5,288.19 L1613.0,288.20 L1614.5,288.21 L1616.0,288.23 L1617.5,288.24 L1619.0,288.25 L1620.5,288.26 L1622.0,288.27 L1623.5,288.28 L1625.0,288.29 L1626.5,288.30 L1628.0,288.31 L1629.5,288.32 L1631.0,288.33 L1632.5,288.34 L1634.0,288.36 L1635.5,288.37 L1637.0,288.38 L1638.5,288.39 L1640.0,288.40 L1641.5,288.42 L1643.0,288.43 L1644.5,288.44 L1646.0,288.46 L1647.5,288.47 L1649.0,288.48 L1650.5,288.50 L1652.0,288.51 L1653.5,288.52 L1655.0,288.54 L1656.5,288.55 L1658.0,288.57 L1659.5,288.58 L1661.0,288.60 L1662.5,288.61 L1664.0,288.63 L1665.5,288.64 L1667.0,288.66 L1668.5,288.68 L1670.0,288.69 L1671.5,288.71 L1673.0,288.73 L1674.5,288.75 L1676.0,288.76 L1677.5,288.78 L1679.0,288.80 L1680.5,288.82 L1682.0,288.84 L1683.5,288.86 L1685.0,288.88 L1686.5,288.90 L1688.0,288.92 L1689.5,288.94 L1691.0,288.96 L1692.5,288.98 L1694.0,289.00 L1695.5,289.02 L1697.0,289.04 L1698.5,289.07 L1700.0,289.09 L1701.5,289.11 L1703.0,289.14 L1704.5,289.16 L1706.0,289.18 L1707.5,289.21 L1709.0,289.23 L1710.5,289.26 L1712.0,289.29 L1713.5,289.31 L1715.0,289.34 L1716.5,289.37 L1718.0,289.39 L1719.5,289.42 L1721.0,289.45 L1722.5,289.48 L1724.0,289.51 L1725.5,289.54 L1727.0,289.57 L1728.5,289.60 L1730.0,289.63 L1731.5,289.66 L1733.0,289.69 L1734.5,289.72 L1736.0,289.76 L1737.5,289.79 L1739.0,289.82 L1740.5,289.86 L1742.0,289.89 L1743.5,289.93 L1745.0,289.96 L1746.5,290.00 L1748.0,290.04 L1749.5,290.07 L1751.0,290.11 L1752.5,290.15 L1754.0,290.19 L1755.5,290.23 L1757.0,290.27 L1758.5,290.31 L1760.0,290.35 L1761.5,290.39 L1763.0,290.43 L1764.5,290.48 L1766.0,290.52 L1767.5,290.56 L1769.0,290.61 L1770.5,290.65 L1772.0,290.70 L1773.5,290.74 L1775.0,290.79 L1776.5,290.84 L1778.0,290.88 L1779.5,290.93 L1781.0,290.98 L1782.5,291.03 L1784.0,291.08 L1785.5,291.13 L1787.0,291.18 L1788.5,291.24 L1790.0,291.29 L1791.5,291.34 L1793.0,291.40 L1794.5,291.45 L1796.0,291.51 L1797.5,291.56 L1799.0,291.62 L1800.5,291.68 L1802.0,291.73 L1803.5,291.79 L1804.0,291.81" stroke="#ffab2f" stroke-width="8" clip-path="url(#c2)"/>
</g>
<g font-family="'Liberation Sans', Arial, sans-serif" font-weight="bold" font-size="50" fill="#000">
<text transform="translate(153.6,974.3) scale(1,1.057)" text-anchor="end">-2</text>
<text transform="translate(160.6,886.4) scale(1,1.057)" text-anchor="end">-1</text>
<text transform="translate(151.8,796.4) scale(1,1.057)" text-anchor="end">0</text>
<text transform="translate(161.1,704.3) scale(1,1.057)" text-anchor="end">1</text>
<text transform="translate(151.8,616.2) scale(1,1.057)" text-anchor="end">2</text>
<text transform="translate(151.8,526.4) scale(1,1.057)" text-anchor="end">3</text>
<text transform="translate(150.0,434.3) scale(1,1.057)" text-anchor="end">4</text>
<text transform="translate(152.4,346.4) scale(1,1.057)" text-anchor="end">5</text>
<text transform="translate(151.8,256.4) scale(1,1.057)" text-anchor="end">6</text>
<text transform="translate(151.8,164.2) scale(1,1.057)" text-anchor="end">7</text>
<text transform="translate(151.8,74.4) scale(1,1.057)" text-anchor="end">8</text>
<text transform="translate(189.4,1038.9) scale(1,1.057)" text-anchor="middle">-600</text>
<text transform="translate(391.3,1038.9) scale(1,1.057)" text-anchor="middle">-400</text>
<text transform="translate(591.4,1038.9) scale(1,1.057)" text-anchor="middle">-200</text>
<text transform="translate(791.9,1038.9) scale(1,1.057)" text-anchor="middle">0</text>
<text transform="translate(994.1,1038.9) scale(1,1.057)" text-anchor="middle">200</text>
<text transform="translate(1195.3,1038.9) scale(1,1.057)" text-anchor="middle">400</text>
<text transform="translate(1396.8,1038.9) scale(1,1.057)" text-anchor="middle">600</text>
<text transform="translate(1599.8,1038.9) scale(1,1.057)" text-anchor="middle">800</text>
<text transform="translate(1802.0,1038.9) scale(1,1.057)" text-anchor="middle">1000</text>
<text transform="translate(317.0,146.8) scale(1,1.057)">#<tspan dx="2.4">1</tspan></text>
<text transform="translate(471.0,146.8) scale(1,1.057)">#2</text>
<text transform="translate(632.9,146.8) scale(1,1.057)">#3</text>
<text transform="translate(792.8,146.8) scale(1,1.057)">#4</text>
</g>
<g fill="#fff"><rect x="134.00" y="879.40" width="10.50" height="7.80"/><rect x="151.55" y="879.40" width="9.45" height="7.80"/><rect x="134.50" y="697.30" width="10.50" height="7.80"/><rect x="152.05" y="697.30" width="9.45" height="7.80"/><rect x="1747.60" y="1031.90" width="10.50" height="7.80"/><rect x="1765.15" y="1031.90" width="9.45" height="7.80"/><rect x="348.40" y="139.80" width="10.50" height="7.80"/><rect x="365.95" y="139.80" width="9.45" height="7.80"/></g>
<path d="M249.5,124.5H291.5" stroke="#000" stroke-width="7" stroke-linecap="round"/>
<path d="M403.5,124.5H446.5" stroke="#0000ff" stroke-width="7" stroke-linecap="round"/>
<path d="M564.5,124.5H606.5" stroke="#009700" stroke-width="7" stroke-linecap="round"/>
<path d="M725.5,124.5H767.5" stroke="#ffab2f" stroke-width="7" stroke-linecap="round"/>
<text transform="translate(995.0,1122.9) scale(1,1.020)" text-anchor="middle" font-family="'Liberation Sans', Arial, sans-serif" font-size="51.7">E (mV/SCE)</text>
<text transform="translate(77.8,504.5) rotate(-90) scale(1,1.000)" text-anchor="middle" font-family="'Liberation Sans', Arial, sans-serif" font-size="52.0">i (uA/cm²)</text>
</svg></body></html>
